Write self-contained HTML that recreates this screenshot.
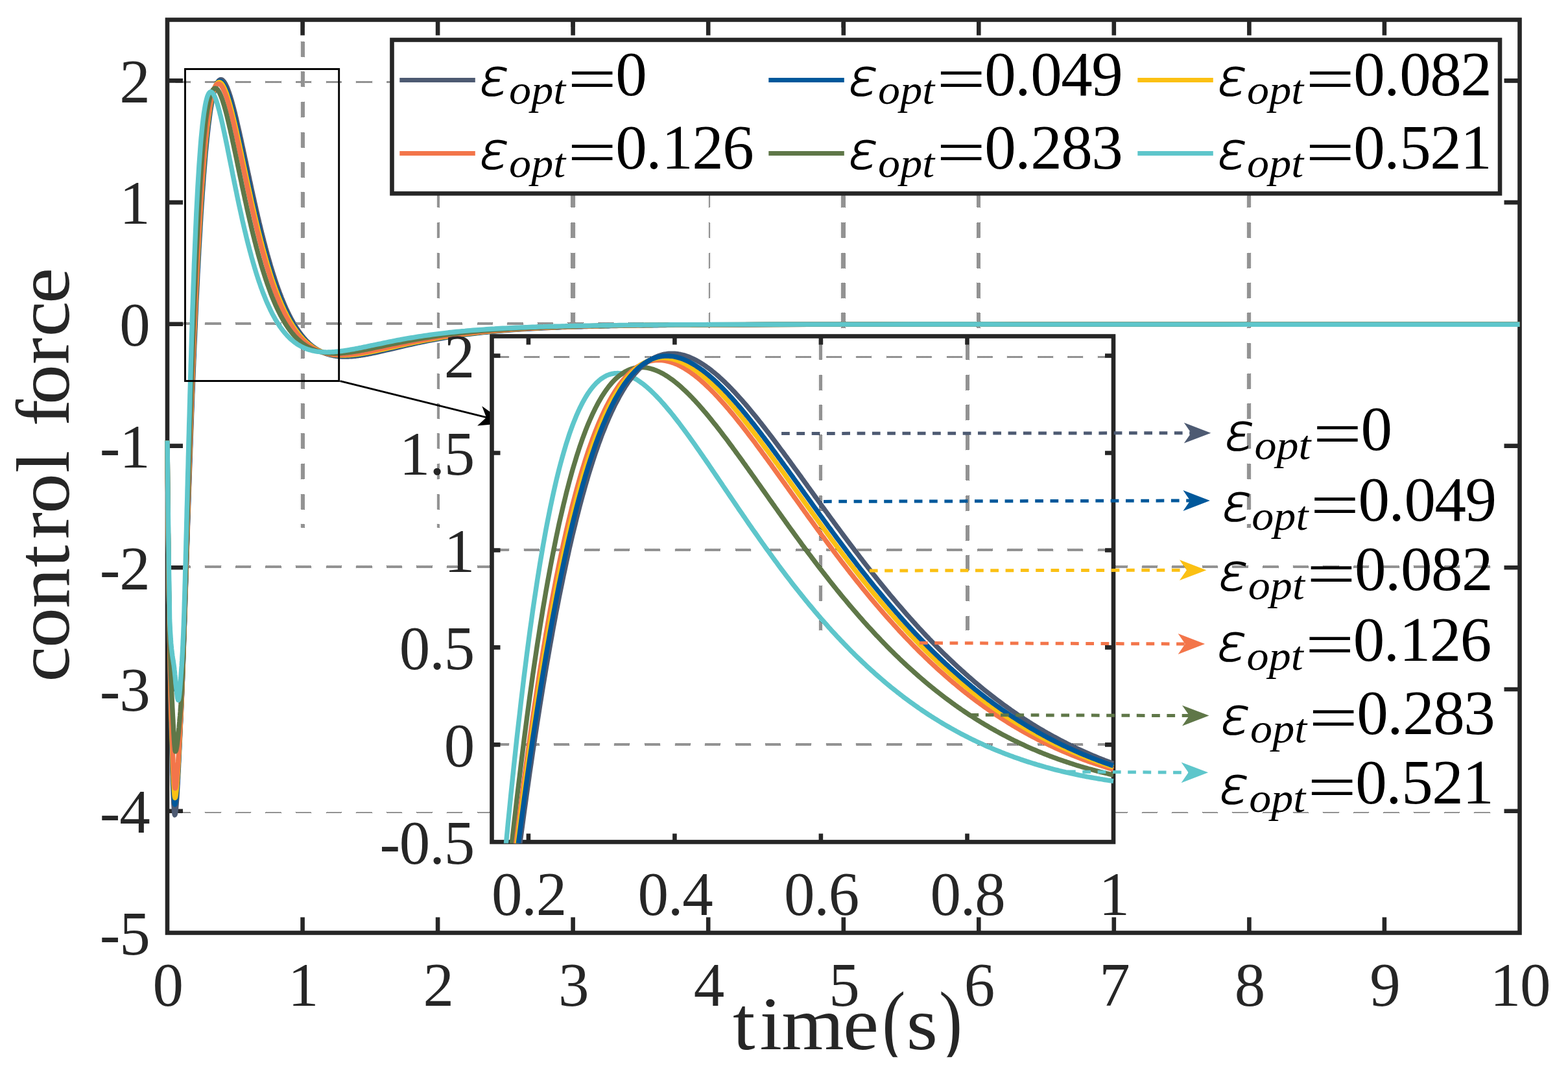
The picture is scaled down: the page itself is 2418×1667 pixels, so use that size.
<!DOCTYPE html>
<html lang="en"><head><meta charset="utf-8"><title>control force</title>
<style>html,body{margin:0;padding:0;background:#fff}svg{display:block}</style></head>
<body>
<svg xmlns="http://www.w3.org/2000/svg" width="2418" height="1667" viewBox="0 0 2418 1667">
<defs>
<pattern id="chk" width="2" height="2" patternUnits="userSpaceOnUse"><rect x="0" y="0" width="1" height="1" fill="#262626"/><rect x="1" y="1" width="1" height="1" fill="#262626"/></pattern>
<clipPath id="cin"><rect x="755.1" y="515.1" width="963.9" height="785.3"/></clipPath>
</defs>
<rect width="2418" height="1667" fill="#fff"/>
<g fill="url(#chk)" shape-rendering="crispEdges">
<rect x="464" y="34" width="6" height="8"/>
<rect x="464" y="64" width="6" height="24"/>
<rect x="464" y="110" width="6" height="24"/>
<rect x="464" y="157" width="6" height="24"/>
<rect x="464" y="204" width="6" height="24"/>
<rect x="464" y="250" width="6" height="24"/>
<rect x="464" y="296" width="6" height="24"/>
<rect x="464" y="343" width="6" height="24"/>
<rect x="464" y="390" width="6" height="24"/>
<rect x="464" y="436" width="6" height="24"/>
<rect x="464" y="482" width="6" height="24"/>
<rect x="464" y="529" width="6" height="24"/>
<rect x="464" y="576" width="6" height="24"/>
<rect x="464" y="622" width="6" height="24"/>
<rect x="464" y="668" width="6" height="24"/>
<rect x="464" y="715" width="6" height="24"/>
<rect x="464" y="762" width="6" height="24"/>
<rect x="464" y="808" width="6" height="6"/>
<rect x="674" y="34" width="4" height="8"/>
<rect x="674" y="64" width="4" height="24"/>
<rect x="674" y="110" width="4" height="24"/>
<rect x="674" y="157" width="4" height="24"/>
<rect x="674" y="204" width="4" height="24"/>
<rect x="674" y="250" width="4" height="24"/>
<rect x="674" y="296" width="4" height="24"/>
<rect x="674" y="343" width="4" height="24"/>
<rect x="674" y="390" width="4" height="24"/>
<rect x="674" y="436" width="4" height="24"/>
<rect x="674" y="482" width="4" height="24"/>
<rect x="674" y="529" width="4" height="24"/>
<rect x="674" y="576" width="4" height="24"/>
<rect x="674" y="622" width="4" height="24"/>
<rect x="674" y="668" width="4" height="24"/>
<rect x="674" y="715" width="4" height="24"/>
<rect x="674" y="762" width="4" height="24"/>
<rect x="674" y="808" width="4" height="6"/>
<rect x="880" y="34" width="7" height="8"/>
<rect x="880" y="64" width="7" height="24"/>
<rect x="880" y="110" width="7" height="24"/>
<rect x="880" y="157" width="7" height="24"/>
<rect x="880" y="204" width="7" height="24"/>
<rect x="880" y="250" width="7" height="24"/>
<rect x="880" y="296" width="7" height="24"/>
<rect x="880" y="343" width="7" height="24"/>
<rect x="880" y="390" width="7" height="24"/>
<rect x="880" y="436" width="7" height="24"/>
<rect x="880" y="482" width="7" height="24"/>
<rect x="880" y="529" width="7" height="24"/>
<rect x="880" y="576" width="7" height="24"/>
<rect x="880" y="622" width="7" height="24"/>
<rect x="880" y="668" width="7" height="24"/>
<rect x="880" y="715" width="7" height="24"/>
<rect x="880" y="762" width="7" height="24"/>
<rect x="880" y="808" width="7" height="6"/>
<rect x="1093" y="34" width="2" height="8"/>
<rect x="1093" y="64" width="2" height="24"/>
<rect x="1093" y="110" width="2" height="24"/>
<rect x="1093" y="157" width="2" height="24"/>
<rect x="1093" y="204" width="2" height="24"/>
<rect x="1093" y="250" width="2" height="24"/>
<rect x="1093" y="296" width="2" height="24"/>
<rect x="1093" y="343" width="2" height="24"/>
<rect x="1093" y="390" width="2" height="24"/>
<rect x="1093" y="436" width="2" height="24"/>
<rect x="1093" y="482" width="2" height="24"/>
<rect x="1093" y="529" width="2" height="24"/>
<rect x="1093" y="576" width="2" height="24"/>
<rect x="1093" y="622" width="2" height="24"/>
<rect x="1093" y="668" width="2" height="24"/>
<rect x="1093" y="715" width="2" height="24"/>
<rect x="1093" y="762" width="2" height="24"/>
<rect x="1093" y="808" width="2" height="6"/>
<rect x="1297" y="34" width="7" height="8"/>
<rect x="1297" y="64" width="7" height="24"/>
<rect x="1297" y="110" width="7" height="24"/>
<rect x="1297" y="157" width="7" height="24"/>
<rect x="1297" y="204" width="7" height="24"/>
<rect x="1297" y="250" width="7" height="24"/>
<rect x="1297" y="296" width="7" height="24"/>
<rect x="1297" y="343" width="7" height="24"/>
<rect x="1297" y="390" width="7" height="24"/>
<rect x="1297" y="436" width="7" height="24"/>
<rect x="1297" y="482" width="7" height="24"/>
<rect x="1297" y="529" width="7" height="24"/>
<rect x="1297" y="576" width="7" height="24"/>
<rect x="1297" y="622" width="7" height="24"/>
<rect x="1297" y="668" width="7" height="24"/>
<rect x="1297" y="715" width="7" height="24"/>
<rect x="1297" y="762" width="7" height="24"/>
<rect x="1297" y="808" width="7" height="6"/>
<rect x="1506" y="34" width="6" height="8"/>
<rect x="1506" y="64" width="6" height="24"/>
<rect x="1506" y="110" width="6" height="24"/>
<rect x="1506" y="157" width="6" height="24"/>
<rect x="1506" y="204" width="6" height="24"/>
<rect x="1506" y="250" width="6" height="24"/>
<rect x="1506" y="296" width="6" height="24"/>
<rect x="1506" y="343" width="6" height="24"/>
<rect x="1506" y="390" width="6" height="24"/>
<rect x="1506" y="436" width="6" height="24"/>
<rect x="1506" y="482" width="6" height="24"/>
<rect x="1506" y="529" width="6" height="24"/>
<rect x="1506" y="576" width="6" height="24"/>
<rect x="1506" y="622" width="6" height="24"/>
<rect x="1506" y="668" width="6" height="24"/>
<rect x="1506" y="715" width="6" height="24"/>
<rect x="1506" y="762" width="6" height="24"/>
<rect x="1506" y="808" width="6" height="6"/>
<rect x="1923" y="34" width="6" height="8"/>
<rect x="1923" y="64" width="6" height="24"/>
<rect x="1923" y="110" width="6" height="24"/>
<rect x="1923" y="157" width="6" height="24"/>
<rect x="1923" y="204" width="6" height="24"/>
<rect x="1923" y="250" width="6" height="24"/>
<rect x="1923" y="296" width="6" height="24"/>
<rect x="1923" y="343" width="6" height="24"/>
<rect x="1923" y="390" width="6" height="24"/>
<rect x="1923" y="436" width="6" height="24"/>
<rect x="1923" y="482" width="6" height="24"/>
<rect x="1923" y="529" width="6" height="24"/>
<rect x="1923" y="576" width="6" height="24"/>
<rect x="1923" y="622" width="6" height="24"/>
<rect x="1923" y="668" width="6" height="24"/>
<rect x="1923" y="715" width="6" height="24"/>
<rect x="1923" y="762" width="6" height="24"/>
<rect x="1923" y="808" width="6" height="6"/>
<rect x="270" y="125" width="24" height="3"/>
<rect x="316" y="125" width="25" height="3"/>
<rect x="363" y="125" width="24" height="3"/>
<rect x="409" y="125" width="25" height="3"/>
<rect x="456" y="125" width="24" height="3"/>
<rect x="503" y="125" width="24" height="3"/>
<rect x="549" y="125" width="25" height="3"/>
<rect x="596" y="125" width="24" height="3"/>
<rect x="642" y="125" width="25" height="3"/>
<rect x="689" y="125" width="24" height="3"/>
<rect x="736" y="125" width="24" height="3"/>
<rect x="782" y="125" width="25" height="3"/>
<rect x="829" y="125" width="24" height="3"/>
<rect x="875" y="125" width="25" height="3"/>
<rect x="922" y="125" width="24" height="3"/>
<rect x="969" y="125" width="24" height="3"/>
<rect x="1015" y="125" width="25" height="3"/>
<rect x="1062" y="125" width="24" height="3"/>
<rect x="1108" y="125" width="25" height="3"/>
<rect x="1155" y="125" width="24" height="3"/>
<rect x="1202" y="125" width="24" height="3"/>
<rect x="1248" y="125" width="25" height="3"/>
<rect x="1295" y="125" width="24" height="3"/>
<rect x="1341" y="125" width="25" height="3"/>
<rect x="1388" y="125" width="24" height="3"/>
<rect x="1434" y="125" width="25" height="3"/>
<rect x="1481" y="125" width="25" height="3"/>
<rect x="1528" y="125" width="24" height="3"/>
<rect x="1574" y="125" width="25" height="3"/>
<rect x="1621" y="125" width="24" height="3"/>
<rect x="1667" y="125" width="25" height="3"/>
<rect x="1714" y="125" width="25" height="3"/>
<rect x="1761" y="125" width="24" height="3"/>
<rect x="1807" y="125" width="25" height="3"/>
<rect x="1854" y="125" width="24" height="3"/>
<rect x="1900" y="125" width="25" height="3"/>
<rect x="1947" y="125" width="25" height="3"/>
<rect x="1994" y="125" width="24" height="3"/>
<rect x="2040" y="125" width="25" height="3"/>
<rect x="2087" y="125" width="24" height="3"/>
<rect x="2133" y="125" width="25" height="3"/>
<rect x="2180" y="125" width="25" height="3"/>
<rect x="2227" y="125" width="24" height="3"/>
<rect x="2273" y="125" width="25" height="3"/>
<rect x="2320" y="125" width="20" height="3"/>
<rect x="270" y="497" width="24" height="4"/>
<rect x="316" y="497" width="25" height="4"/>
<rect x="363" y="497" width="24" height="4"/>
<rect x="409" y="497" width="25" height="4"/>
<rect x="456" y="497" width="24" height="4"/>
<rect x="503" y="497" width="24" height="4"/>
<rect x="549" y="497" width="25" height="4"/>
<rect x="596" y="497" width="24" height="4"/>
<rect x="642" y="497" width="25" height="4"/>
<rect x="689" y="497" width="24" height="4"/>
<rect x="736" y="497" width="24" height="4"/>
<rect x="782" y="497" width="25" height="4"/>
<rect x="829" y="497" width="24" height="4"/>
<rect x="875" y="497" width="25" height="4"/>
<rect x="922" y="497" width="24" height="4"/>
<rect x="969" y="497" width="24" height="4"/>
<rect x="1015" y="497" width="25" height="4"/>
<rect x="1062" y="497" width="24" height="4"/>
<rect x="1108" y="497" width="25" height="4"/>
<rect x="1155" y="497" width="24" height="4"/>
<rect x="1202" y="497" width="24" height="4"/>
<rect x="1248" y="497" width="25" height="4"/>
<rect x="1295" y="497" width="24" height="4"/>
<rect x="1341" y="497" width="25" height="4"/>
<rect x="1388" y="497" width="24" height="4"/>
<rect x="1434" y="497" width="25" height="4"/>
<rect x="1481" y="497" width="25" height="4"/>
<rect x="1528" y="497" width="24" height="4"/>
<rect x="1574" y="497" width="25" height="4"/>
<rect x="1621" y="497" width="24" height="4"/>
<rect x="1667" y="497" width="25" height="4"/>
<rect x="1714" y="497" width="25" height="4"/>
<rect x="1761" y="497" width="24" height="4"/>
<rect x="1807" y="497" width="25" height="4"/>
<rect x="1854" y="497" width="24" height="4"/>
<rect x="1900" y="497" width="25" height="4"/>
<rect x="1947" y="497" width="25" height="4"/>
<rect x="1994" y="497" width="24" height="4"/>
<rect x="2040" y="497" width="25" height="4"/>
<rect x="2087" y="497" width="24" height="4"/>
<rect x="2133" y="497" width="25" height="4"/>
<rect x="2180" y="497" width="25" height="4"/>
<rect x="2227" y="497" width="24" height="4"/>
<rect x="2273" y="497" width="25" height="4"/>
<rect x="2320" y="497" width="20" height="4"/>
<rect x="270" y="872" width="24" height="4"/>
<rect x="316" y="872" width="25" height="4"/>
<rect x="363" y="872" width="24" height="4"/>
<rect x="409" y="872" width="25" height="4"/>
<rect x="456" y="872" width="24" height="4"/>
<rect x="503" y="872" width="24" height="4"/>
<rect x="549" y="872" width="25" height="4"/>
<rect x="596" y="872" width="24" height="4"/>
<rect x="642" y="872" width="25" height="4"/>
<rect x="689" y="872" width="24" height="4"/>
<rect x="736" y="872" width="24" height="4"/>
<rect x="782" y="872" width="25" height="4"/>
<rect x="829" y="872" width="24" height="4"/>
<rect x="875" y="872" width="25" height="4"/>
<rect x="922" y="872" width="24" height="4"/>
<rect x="969" y="872" width="24" height="4"/>
<rect x="1015" y="872" width="25" height="4"/>
<rect x="1062" y="872" width="24" height="4"/>
<rect x="1108" y="872" width="25" height="4"/>
<rect x="1155" y="872" width="24" height="4"/>
<rect x="1202" y="872" width="24" height="4"/>
<rect x="1248" y="872" width="25" height="4"/>
<rect x="1295" y="872" width="24" height="4"/>
<rect x="1341" y="872" width="25" height="4"/>
<rect x="1388" y="872" width="24" height="4"/>
<rect x="1434" y="872" width="25" height="4"/>
<rect x="1481" y="872" width="25" height="4"/>
<rect x="1528" y="872" width="24" height="4"/>
<rect x="1574" y="872" width="25" height="4"/>
<rect x="1621" y="872" width="24" height="4"/>
<rect x="1667" y="872" width="25" height="4"/>
<rect x="1714" y="872" width="25" height="4"/>
<rect x="1761" y="872" width="24" height="4"/>
<rect x="1807" y="872" width="25" height="4"/>
<rect x="1854" y="872" width="24" height="4"/>
<rect x="1900" y="872" width="25" height="4"/>
<rect x="1947" y="872" width="25" height="4"/>
<rect x="1994" y="872" width="24" height="4"/>
<rect x="2040" y="872" width="25" height="4"/>
<rect x="2087" y="872" width="24" height="4"/>
<rect x="2133" y="872" width="25" height="4"/>
<rect x="2180" y="872" width="25" height="4"/>
<rect x="2227" y="872" width="24" height="4"/>
<rect x="2273" y="872" width="25" height="4"/>
<rect x="2320" y="872" width="20" height="4"/>
<rect x="270" y="1252" width="24" height="2"/>
<rect x="316" y="1252" width="25" height="2"/>
<rect x="363" y="1252" width="24" height="2"/>
<rect x="409" y="1252" width="25" height="2"/>
<rect x="456" y="1252" width="24" height="2"/>
<rect x="503" y="1252" width="24" height="2"/>
<rect x="549" y="1252" width="25" height="2"/>
<rect x="596" y="1252" width="24" height="2"/>
<rect x="642" y="1252" width="25" height="2"/>
<rect x="689" y="1252" width="24" height="2"/>
<rect x="736" y="1252" width="24" height="2"/>
<rect x="782" y="1252" width="25" height="2"/>
<rect x="829" y="1252" width="24" height="2"/>
<rect x="875" y="1252" width="25" height="2"/>
<rect x="922" y="1252" width="24" height="2"/>
<rect x="969" y="1252" width="24" height="2"/>
<rect x="1015" y="1252" width="25" height="2"/>
<rect x="1062" y="1252" width="24" height="2"/>
<rect x="1108" y="1252" width="25" height="2"/>
<rect x="1155" y="1252" width="24" height="2"/>
<rect x="1202" y="1252" width="24" height="2"/>
<rect x="1248" y="1252" width="25" height="2"/>
<rect x="1295" y="1252" width="24" height="2"/>
<rect x="1341" y="1252" width="25" height="2"/>
<rect x="1388" y="1252" width="24" height="2"/>
<rect x="1434" y="1252" width="25" height="2"/>
<rect x="1481" y="1252" width="25" height="2"/>
<rect x="1528" y="1252" width="24" height="2"/>
<rect x="1574" y="1252" width="25" height="2"/>
<rect x="1621" y="1252" width="24" height="2"/>
<rect x="1667" y="1252" width="25" height="2"/>
<rect x="1714" y="1252" width="25" height="2"/>
<rect x="1761" y="1252" width="24" height="2"/>
<rect x="1807" y="1252" width="25" height="2"/>
<rect x="1854" y="1252" width="24" height="2"/>
<rect x="1900" y="1252" width="25" height="2"/>
<rect x="1947" y="1252" width="25" height="2"/>
<rect x="1994" y="1252" width="24" height="2"/>
<rect x="2040" y="1252" width="25" height="2"/>
<rect x="2087" y="1252" width="24" height="2"/>
<rect x="2133" y="1252" width="25" height="2"/>
<rect x="2180" y="1252" width="25" height="2"/>
<rect x="2227" y="1252" width="24" height="2"/>
<rect x="2273" y="1252" width="25" height="2"/>
<rect x="2320" y="1252" width="20" height="2"/>
</g>
<g stroke="#262626" stroke-width="6.6" fill="none" stroke-linecap="butt">
<rect x="258" y="30.5" width="2085.5" height="1408"/>
<path d="M466.6 1438.5v-24M466.6 30.5v24M675.1 1438.5v-24M675.1 30.5v24M883.6 1438.5v-24M883.6 30.5v24M1092.2 1438.5v-24M1092.2 30.5v24M1300.8 1438.5v-24M1300.8 30.5v24M1509.3 1438.5v-24M1509.3 30.5v24M1717.8 1438.5v-24M1717.8 30.5v24M1926.4 1438.5v-24M1926.4 30.5v24M2134.9 1438.5v-24M2134.9 30.5v24M258 1250.8h24M2343.5 1250.8h-24M258 1063h24M2343.5 1063h-24M258 875.3h24M2343.5 875.3h-24M258 687.6h24M2343.5 687.6h-24M258 499.8h24M2343.5 499.8h-24M258 312.1h24M2343.5 312.1h-24M258 124.4h24M2343.5 124.4h-24"/>
</g>
<g fill="none" stroke-width="7.4" stroke-linejoin="round" stroke-linecap="butt">
<polyline stroke="#4d5a72" points="258.0,679.5 258.3,710.6 258.5,740.2 258.8,768.2 259.0,794.9 259.3,820.1 259.6,844.1 259.8,866.8 260.1,888.3 260.3,908.7 260.6,927.7 260.9,944.3 261.1,960.2 261.4,977.1 261.6,994.7 261.9,1012.7 262.2,1030.5 262.4,1047.8 262.7,1064.2 263.0,1079.1 263.2,1092.2 263.5,1103.0 263.7,1113.0 264.0,1122.9 264.3,1132.8 264.5,1142.5 264.8,1152.1 265.0,1161.5 265.3,1170.7 265.6,1179.6 265.8,1188.2 266.1,1196.4 266.3,1204.3 266.6,1211.8 266.9,1218.8 267.1,1225.4 267.4,1231.4 267.6,1236.9 267.9,1241.8 268.2,1246.0 268.4,1249.6 268.7,1252.6 268.9,1254.7 269.2,1256.2 269.5,1256.8 269.7,1256.7 270.0,1256.2 270.3,1255.4 270.5,1254.2 270.8,1252.7 271.0,1250.8 271.3,1248.6 271.6,1246.2 271.8,1243.4 272.1,1240.4 272.3,1237.1 272.6,1233.6 272.9,1229.9 273.1,1225.9 273.4,1221.7 273.6,1217.3 273.9,1212.8 274.2,1208.1 274.4,1203.2 274.7,1198.2 274.9,1193.0 275.2,1187.8 275.5,1182.4 275.7,1177.0 276.0,1171.5 276.2,1165.9 276.5,1160.2 276.8,1154.6 277.0,1148.9 277.3,1143.2 277.6,1137.5 277.8,1131.8 278.1,1126.2 278.3,1120.6 278.6,1115.0 278.9,1109.6 279.1,1104.2 279.4,1098.8 279.6,1093.3 279.9,1087.6 280.2,1081.6 280.4,1075.4 280.7,1069.0 280.9,1062.5 281.2,1055.8 281.5,1048.9 281.7,1042.0 282.0,1034.9 282.2,1027.8 282.5,1020.7 282.8,1013.5 283.0,1006.2 283.3,999.0 283.5,991.7 283.8,984.2 284.1,976.4 284.3,968.7 284.6,961.0 284.9,953.2 285.1,945.4 285.4,937.6 285.6,929.8 285.9,921.9 286.2,914.0 286.4,906.1 286.7,898.2 286.9,890.3 287.2,882.4 287.5,874.5 287.7,866.6 288.0,858.7 288.2,850.9 288.5,843.0 288.8,835.2 289.0,827.3 289.3,819.5 289.5,811.7 289.8,803.9 290.1,796.2 290.3,788.5 290.6,780.8 290.8,773.1 291.1,765.5 291.4,757.9 291.6,750.3 291.9,742.7 292.2,735.2 292.4,727.8 292.7,720.3 292.9,713.0 293.2,705.6 293.5,698.3 293.7,691.0 294.0,683.8 294.2,676.6 294.5,669.5 294.8,662.3 295.0,655.3 295.3,648.3 295.5,641.3 295.8,634.4 296.1,627.5 296.3,620.7 296.6,613.9 296.8,607.2 297.1,600.5 297.4,593.8 297.6,587.2 297.9,580.7 298.1,574.2 298.4,567.7 298.7,561.4 298.9,555.0 299.2,548.7 299.4,542.5 299.7,536.3 300.8,512.0 301.8,488.5 302.8,465.9 303.9,444.1 304.9,423.1 306.0,403.0 307.0,383.6 308.1,365.1 309.1,347.4 310.1,330.5 311.2,314.3 312.2,299.0 313.3,284.4 314.3,270.5 315.4,257.4 316.4,245.0 317.4,233.3 318.5,222.4 319.5,212.0 320.6,202.4 321.6,193.4 322.7,185.0 323.7,177.3 324.7,170.1 325.8,163.5 326.8,157.5 327.9,152.1 328.9,147.1 329.9,142.7 331.0,138.7 332.0,135.2 333.1,132.2 334.1,129.7 335.2,127.5 336.2,125.8 337.2,124.4 338.3,123.5 339.3,122.9 340.4,122.6 341.4,122.7 342.5,123.1 343.5,123.8 344.5,124.8 345.6,126.1 346.6,127.6 347.7,129.4 348.7,131.5 349.8,133.7 350.8,136.2 351.8,138.8 352.9,141.7 353.9,144.7 355.0,147.9 356.0,151.3 357.1,154.8 358.1,158.5 359.1,162.3 360.2,166.2 361.2,170.2 362.3,174.3 363.3,178.6 364.4,182.9 365.4,187.3 366.4,191.7 367.5,196.3 368.5,200.9 369.6,205.5 370.6,210.2 371.7,214.9 372.7,219.7 373.7,224.5 374.8,229.3 375.8,234.2 376.9,239.1 377.9,243.9 379.0,248.8 380.0,253.7 381.0,258.6 382.1,263.5 383.1,268.4 384.2,273.2 385.2,278.1 386.3,282.9 387.3,287.7 388.3,292.5 389.4,297.3 390.4,302.0 391.5,306.7 392.5,311.4 393.6,316.0 394.6,320.6 395.6,325.2 396.7,329.7 397.7,334.2 398.8,338.7 399.8,343.1 400.9,347.4 401.9,351.7 402.9,356.0 404.0,360.2 405.0,364.3 406.1,368.4 407.1,372.5 408.2,376.5 409.2,380.5 410.2,384.4 411.3,388.2 412.3,392.0 413.4,395.7 414.4,399.4 415.5,403.1 416.5,406.6 417.5,410.2 418.6,413.6 419.6,417.0 420.7,420.4 421.7,423.7 422.8,426.9 423.8,430.1 424.8,433.3 425.9,436.4 426.9,439.4 428.0,442.4 429.0,445.3 430.1,448.1 431.1,451.0 432.1,453.7 433.2,456.4 434.2,459.1 435.3,461.7 436.3,464.3 437.4,466.8 438.4,469.2 439.4,471.6 440.5,474.0 441.5,476.3 442.6,478.5 443.6,480.8 444.7,482.9 445.7,485.0 446.7,487.1 447.8,489.1 448.8,491.1 449.9,493.0 450.9,494.9 452.0,496.8 453.0,498.6 454.0,500.3 455.1,502.1 456.1,503.7 457.2,505.4 458.2,507.0 459.3,508.5 460.3,510.1 461.3,511.5 462.4,513.0 463.4,514.4 464.5,515.8 465.5,517.1 466.6,518.4 467.6,519.6 468.6,520.9 469.7,522.1 470.7,523.2 471.8,524.4 472.8,525.5 473.8,526.5 474.9,527.5 475.9,528.6 477.0,529.5 478.0,530.5 479.1,531.4 480.1,532.3 481.1,533.1 482.2,534.0 483.2,534.8 484.3,535.5 485.3,536.3 486.4,537.0 487.4,537.7 488.4,538.4 489.5,539.0 490.5,539.7 491.6,540.3 492.6,540.8 493.7,541.4 494.7,541.9 495.7,542.5 496.8,543.0 497.8,543.4 498.9,543.9 499.9,544.3 501.0,544.7 502.0,545.1 503.0,545.5 504.1,545.9 505.1,546.2 506.2,546.5 507.2,546.9 508.3,547.2 509.3,547.4 510.3,547.7 511.4,547.9 512.4,548.2 513.5,548.4 514.5,548.6 515.6,548.8 516.6,548.9 517.6,549.1 518.7,549.3 519.7,549.4 520.8,549.5 521.8,549.6 522.9,549.7 523.9,549.8 524.9,549.9 526.0,549.9 527.0,550.0 528.1,550.0 529.1,550.1 530.2,550.1 531.2,550.1 532.2,550.1 533.3,550.1 534.3,550.1 535.4,550.1 536.4,550.0 537.5,550.0 538.5,549.9 539.5,549.9 540.6,549.8 541.6,549.8 542.7,549.7 543.7,549.6 544.8,549.5 545.8,549.4 546.8,549.3 547.9,549.2 548.9,549.1 550.0,548.9 551.0,548.8 552.1,548.7 553.1,548.5 554.1,548.4 555.2,548.3 556.2,548.1 557.3,547.9 558.3,547.8 559.4,547.6 560.4,547.4 561.4,547.3 562.5,547.1 563.5,546.9 564.6,546.7 565.6,546.5 566.7,546.3 567.7,546.1 568.7,545.9 569.8,545.7 570.8,545.5 575.0,544.7 579.2,543.8 583.3,542.9 587.5,542.0 591.7,541.0 595.9,540.0 600.0,539.1 604.2,538.1 608.4,537.1 612.5,536.1 616.7,535.1 620.9,534.1 625.0,533.2 629.2,532.2 633.4,531.3 637.6,530.3 641.7,529.4 645.9,528.5 650.1,527.7 654.2,526.8 658.4,525.9 662.6,525.1 666.8,524.3 670.9,523.5 675.1,522.8 679.3,522.0 683.4,521.3 687.6,520.6 691.8,519.9 696.0,519.2 700.1,518.6 704.3,517.9 708.5,517.3 712.6,516.7 716.8,516.2 721.0,515.6 725.2,515.1 729.3,514.5 733.5,514.0 737.7,513.6 741.8,513.1 746.0,512.6 750.2,512.2 754.3,511.8 758.5,511.4 762.7,511.0 766.9,510.6 771.0,510.2 775.2,509.9 779.4,509.5 783.5,509.2 787.7,508.9 791.9,508.6 796.1,508.3 800.2,508.0 804.4,507.7 808.6,507.5 812.7,507.2 816.9,507.0 821.1,506.7 825.3,506.5 829.4,506.3 833.6,506.1 837.8,505.9 841.9,505.7 846.1,505.5 850.3,505.3 854.5,505.1 858.6,505.0 862.8,504.8 867.0,504.6 871.1,504.5 875.3,504.3 879.5,504.2 883.6,504.1 887.8,503.9 892.0,503.8 896.2,503.7 900.3,503.6 904.5,503.5 908.7,503.3 912.8,503.2 917.0,503.1 921.2,503.0 925.4,503.0 929.5,502.9 933.7,502.8 937.9,502.7 942.0,502.6 946.2,502.5 950.4,502.5 954.6,502.4 958.7,502.3 962.9,502.2 967.1,502.2 971.2,502.1 975.4,502.1 979.6,502.0 983.8,501.9 987.9,501.9 992.1,501.8 996.3,501.8 1000.4,501.7 1004.6,501.7 1008.8,501.6 1013.0,501.6 1017.1,501.5 1021.3,501.5 1025.5,501.5 1029.6,501.4 1033.8,501.4 1038.0,501.3 1042.1,501.3 1046.3,501.3 1050.5,501.2 1054.7,501.2 1058.8,501.2 1063.0,501.1 1067.2,501.1 1071.3,501.1 1075.5,501.1 1079.7,501.0 1083.9,501.0 1088.0,501.0 1092.2,501.0 1144.3,500.7 1196.5,500.5 1248.6,500.4 1300.8,500.3 1352.9,500.3 1405.0,500.2 1457.2,500.2 1509.3,500.2 1561.4,500.2 1613.6,500.2 1665.7,500.2 1717.8,500.2 1770.0,500.2 1822.1,500.2 1874.3,500.2 1926.4,500.2 1978.5,500.2 2030.7,500.2 2082.8,500.2 2134.9,500.2 2187.1,500.2 2239.2,500.2 2291.4,500.2 2343.5,500.2"/>
<polyline stroke="#00589b" points="258.0,679.5 258.3,710.6 258.5,740.2 258.8,768.2 259.0,794.9 259.3,820.1 259.6,844.1 259.8,866.8 260.1,888.3 260.3,908.7 260.6,927.8 260.9,944.5 261.1,960.2 261.4,976.2 261.6,992.7 261.9,1009.3 262.2,1025.8 262.4,1041.8 262.7,1057.0 263.0,1071.2 263.2,1084.0 263.5,1095.2 263.7,1104.6 264.0,1113.6 264.3,1122.6 264.5,1131.5 264.8,1140.3 265.0,1149.0 265.3,1157.4 265.6,1165.6 265.8,1173.6 266.1,1181.3 266.3,1188.7 266.6,1195.7 266.9,1202.4 267.1,1208.6 267.4,1214.4 267.6,1219.7 267.9,1224.5 268.2,1228.7 268.4,1232.3 268.7,1235.4 268.9,1237.7 269.2,1239.4 269.5,1240.4 269.7,1240.6 270.0,1240.4 270.3,1239.8 270.5,1238.9 270.8,1237.7 271.0,1236.1 271.3,1234.3 271.6,1232.1 271.8,1229.8 272.1,1227.1 272.3,1224.2 272.6,1221.1 272.9,1217.7 273.1,1214.2 273.4,1210.4 273.6,1206.4 273.9,1202.3 274.2,1198.0 274.4,1193.6 274.7,1189.0 274.9,1184.3 275.2,1179.5 275.5,1174.6 275.7,1169.6 276.0,1164.5 276.2,1159.4 276.5,1154.2 276.8,1149.0 277.0,1143.7 277.3,1138.4 277.6,1133.1 277.8,1127.9 278.1,1122.6 278.3,1117.4 278.6,1112.2 278.9,1107.0 279.1,1102.0 279.4,1096.9 279.6,1091.5 279.9,1085.9 280.2,1080.0 280.4,1073.9 280.7,1067.6 280.9,1061.1 281.2,1054.5 281.5,1047.7 281.7,1040.8 282.0,1033.8 282.2,1026.7 282.5,1019.5 282.8,1012.2 283.0,1005.0 283.3,997.7 283.5,990.3 283.8,982.6 284.1,974.6 284.3,966.7 284.6,958.8 284.9,950.8 285.1,942.7 285.4,934.7 285.6,926.6 285.9,918.4 286.2,910.3 286.4,902.2 286.7,894.0 286.9,885.8 287.2,877.7 287.5,869.5 287.7,861.4 288.0,853.2 288.2,845.1 288.5,836.9 288.8,828.8 289.0,820.8 289.3,812.7 289.5,804.6 289.8,796.6 290.1,788.6 290.3,780.7 290.6,772.8 290.8,764.9 291.1,757.0 291.4,749.2 291.6,741.4 291.9,733.7 292.2,726.0 292.4,718.3 292.7,710.7 292.9,703.1 293.2,695.6 293.5,688.1 293.7,680.6 294.0,673.2 294.2,665.9 294.5,658.6 294.8,651.3 295.0,644.1 295.3,637.0 295.5,629.9 295.8,622.8 296.1,615.9 296.3,608.9 296.6,602.0 296.8,595.2 297.1,588.4 297.4,581.7 297.6,575.0 297.9,568.3 298.1,561.8 298.4,555.3 298.7,548.8 298.9,542.4 299.2,536.0 299.4,529.7 299.7,523.5 300.8,499.1 301.8,475.5 302.8,452.9 303.9,431.1 304.9,410.2 306.0,390.2 307.0,371.1 308.1,352.8 309.1,335.3 310.1,318.7 311.2,302.9 312.2,288.0 313.3,273.8 314.3,260.3 315.4,247.7 316.4,235.8 317.4,224.6 318.5,214.1 319.5,204.3 320.6,195.2 321.6,186.7 322.7,178.9 323.7,171.6 324.7,165.0 325.8,159.0 326.8,153.5 327.9,148.6 328.9,144.2 329.9,140.3 331.0,136.8 332.0,133.9 333.1,131.4 334.1,129.4 335.2,127.7 336.2,126.5 337.2,125.6 338.3,125.2 339.3,125.1 340.4,125.3 341.4,125.8 342.5,126.6 343.5,127.8 344.5,129.2 345.6,130.9 346.6,132.8 347.7,135.0 348.7,137.4 349.8,140.0 350.8,142.8 351.8,145.8 352.9,148.9 353.9,152.3 355.0,155.8 356.0,159.4 357.1,163.2 358.1,167.1 359.1,171.1 360.2,175.3 361.2,179.5 362.3,183.8 363.3,188.3 364.4,192.7 365.4,197.3 366.4,201.9 367.5,206.6 368.5,211.3 369.6,216.1 370.6,220.9 371.7,225.7 372.7,230.6 373.7,235.5 374.8,240.4 375.8,245.3 376.9,250.2 377.9,255.1 379.0,260.0 380.0,264.9 381.0,269.8 382.1,274.7 383.1,279.6 384.2,284.4 385.2,289.3 386.3,294.1 387.3,298.9 388.3,303.6 389.4,308.3 390.4,313.0 391.5,317.7 392.5,322.3 393.6,326.8 394.6,331.4 395.6,335.9 396.7,340.3 397.7,344.7 398.8,349.0 399.8,353.3 400.9,357.6 401.9,361.8 402.9,365.9 404.0,370.0 405.0,374.1 406.1,378.1 407.1,382.0 408.2,385.9 409.2,389.7 410.2,393.5 411.3,397.2 412.3,400.9 413.4,404.5 414.4,408.0 415.5,411.5 416.5,415.0 417.5,418.4 418.6,421.7 419.6,425.0 420.7,428.2 421.7,431.3 422.8,434.4 423.8,437.5 424.8,440.5 425.9,443.4 426.9,446.3 428.0,449.1 429.0,451.9 430.1,454.7 431.1,457.3 432.1,459.9 433.2,462.5 434.2,465.0 435.3,467.5 436.3,469.9 437.4,472.3 438.4,474.6 439.4,476.9 440.5,479.1 441.5,481.3 442.6,483.4 443.6,485.5 444.7,487.5 445.7,489.5 446.7,491.4 447.8,493.3 448.8,495.2 449.9,497.0 450.9,498.8 452.0,500.5 453.0,502.2 454.0,503.8 455.1,505.4 456.1,507.0 457.2,508.5 458.2,510.0 459.3,511.4 460.3,512.8 461.3,514.2 462.4,515.6 463.4,516.9 464.5,518.1 465.5,519.4 466.6,520.6 467.6,521.7 468.6,522.8 469.7,523.9 470.7,525.0 471.8,526.0 472.8,527.1 473.8,528.0 474.9,529.0 475.9,529.9 477.0,530.8 478.0,531.6 479.1,532.5 480.1,533.3 481.1,534.1 482.2,534.8 483.2,535.5 484.3,536.2 485.3,536.9 486.4,537.6 487.4,538.2 488.4,538.8 489.5,539.4 490.5,540.0 491.6,540.5 492.6,541.0 493.7,541.5 494.7,542.0 495.7,542.5 496.8,542.9 497.8,543.3 498.9,543.7 499.9,544.1 501.0,544.5 502.0,544.8 503.0,545.2 504.1,545.5 505.1,545.8 506.2,546.1 507.2,546.3 508.3,546.6 509.3,546.8 510.3,547.0 511.4,547.2 512.4,547.4 513.5,547.6 514.5,547.8 515.6,547.9 516.6,548.1 517.6,548.2 518.7,548.3 519.7,548.4 520.8,548.5 521.8,548.6 522.9,548.7 523.9,548.7 524.9,548.8 526.0,548.8 527.0,548.8 528.1,548.9 529.1,548.9 530.2,548.9 531.2,548.9 532.2,548.9 533.3,548.8 534.3,548.8 535.4,548.8 536.4,548.7 537.5,548.7 538.5,548.6 539.5,548.5 540.6,548.4 541.6,548.4 542.7,548.3 543.7,548.2 544.8,548.1 545.8,548.0 546.8,547.9 547.9,547.7 548.9,547.6 550.0,547.5 551.0,547.3 552.1,547.2 553.1,547.1 554.1,546.9 555.2,546.8 556.2,546.6 557.3,546.4 558.3,546.3 559.4,546.1 560.4,545.9 561.4,545.7 562.5,545.6 563.5,545.4 564.6,545.2 565.6,545.0 566.7,544.8 567.7,544.6 568.7,544.4 569.8,544.2 570.8,544.0 575.0,543.2 579.2,542.3 583.3,541.4 587.5,540.5 591.7,539.6 595.9,538.6 600.0,537.7 604.2,536.7 608.4,535.7 612.5,534.8 616.7,533.8 620.9,532.9 625.0,532.0 629.2,531.0 633.4,530.1 637.6,529.2 641.7,528.3 645.9,527.5 650.1,526.6 654.2,525.8 658.4,525.0 662.6,524.2 666.8,523.4 670.9,522.6 675.1,521.9 679.3,521.2 683.4,520.5 687.6,519.8 691.8,519.1 696.0,518.5 700.1,517.9 704.3,517.3 708.5,516.7 712.6,516.1 716.8,515.5 721.0,515.0 725.2,514.5 729.3,514.0 733.5,513.5 737.7,513.0 741.8,512.6 746.0,512.1 750.2,511.7 754.3,511.3 758.5,510.9 762.7,510.5 766.9,510.2 771.0,509.8 775.2,509.5 779.4,509.1 783.5,508.8 787.7,508.5 791.9,508.2 796.1,507.9 800.2,507.6 804.4,507.4 808.6,507.1 812.7,506.9 816.9,506.6 821.1,506.4 825.3,506.2 829.4,506.0 833.6,505.8 837.8,505.6 841.9,505.4 846.1,505.2 850.3,505.0 854.5,504.8 858.6,504.7 862.8,504.5 867.0,504.4 871.1,504.2 875.3,504.1 879.5,504.0 883.6,503.8 887.8,503.7 892.0,503.6 896.2,503.5 900.3,503.3 904.5,503.2 908.7,503.1 912.8,503.0 917.0,502.9 921.2,502.8 925.4,502.8 929.5,502.7 933.7,502.6 937.9,502.5 942.0,502.4 946.2,502.3 950.4,502.3 954.6,502.2 958.7,502.1 962.9,502.1 967.1,502.0 971.2,502.0 975.4,501.9 979.6,501.8 983.8,501.8 987.9,501.7 992.1,501.7 996.3,501.6 1000.4,501.6 1004.6,501.5 1008.8,501.5 1013.0,501.5 1017.1,501.4 1021.3,501.4 1025.5,501.3 1029.6,501.3 1033.8,501.3 1038.0,501.2 1042.1,501.2 1046.3,501.2 1050.5,501.1 1054.7,501.1 1058.8,501.1 1063.0,501.1 1067.2,501.0 1071.3,501.0 1075.5,501.0 1079.7,501.0 1083.9,500.9 1088.0,500.9 1092.2,500.9 1144.3,500.7 1196.5,500.5 1248.6,500.4 1300.8,500.4 1352.9,500.3 1405.0,500.3 1457.2,500.3 1509.3,500.2 1561.4,500.2 1613.6,500.2 1665.7,500.2 1717.8,500.2 1770.0,500.2 1822.1,500.2 1874.3,500.2 1926.4,500.2 1978.5,500.2 2030.7,500.2 2082.8,500.2 2134.9,500.2 2187.1,500.2 2239.2,500.2 2291.4,500.2 2343.5,500.2"/>
<polyline stroke="#fbc013" points="258.0,679.5 258.3,710.6 258.5,740.2 258.8,768.2 259.0,794.9 259.3,820.1 259.6,844.1 259.8,866.8 260.1,888.3 260.3,908.7 260.6,927.8 260.9,944.7 261.1,960.2 261.4,975.5 261.6,991.1 261.9,1006.6 262.2,1021.8 262.4,1036.6 262.7,1050.8 263.0,1064.2 263.2,1076.6 263.5,1087.7 263.7,1097.5 264.0,1106.0 264.3,1114.3 264.5,1122.6 264.8,1130.8 265.0,1138.9 265.3,1146.9 265.6,1154.7 265.8,1162.3 266.1,1169.6 266.3,1176.7 266.6,1183.5 266.9,1190.0 267.1,1196.1 267.4,1201.8 267.6,1207.1 267.9,1211.9 268.2,1216.2 268.4,1220.1 268.7,1223.4 268.9,1226.1 269.2,1228.2 269.5,1229.6 269.7,1230.4 270.0,1230.5 270.3,1230.2 270.5,1229.5 270.8,1228.6 271.0,1227.3 271.3,1225.8 271.6,1223.9 271.8,1221.8 272.1,1219.4 272.3,1216.8 272.6,1213.9 272.9,1210.8 273.1,1207.5 273.4,1204.0 273.6,1200.4 273.9,1196.5 274.2,1192.5 274.4,1188.3 274.7,1183.9 274.9,1179.5 275.2,1174.9 275.5,1170.2 275.7,1165.4 276.0,1160.6 276.2,1155.6 276.5,1150.6 276.8,1145.6 277.0,1140.5 277.3,1135.4 277.6,1130.3 277.8,1125.2 278.1,1120.1 278.3,1115.0 278.6,1109.9 278.9,1104.9 279.1,1100.0 279.4,1094.8 279.6,1089.4 279.9,1083.6 280.2,1077.6 280.4,1071.3 280.7,1064.8 280.9,1058.1 281.2,1051.2 281.5,1044.2 281.7,1037.1 282.0,1029.8 282.2,1022.5 282.5,1015.1 282.8,1007.6 283.0,1000.1 283.3,992.7 283.5,985.2 283.8,977.3 284.1,969.2 284.3,961.2 284.6,953.1 284.9,945.0 285.1,936.8 285.4,928.7 285.6,920.4 285.9,912.2 286.2,904.0 286.4,895.7 286.7,887.4 286.9,879.2 287.2,870.9 287.5,862.6 287.7,854.4 288.0,846.1 288.2,837.9 288.5,829.7 288.8,821.5 289.0,813.3 289.3,805.1 289.5,797.0 289.8,788.9 290.1,780.8 290.3,772.7 290.6,764.7 290.8,756.8 291.1,748.8 291.4,740.9 291.6,733.0 291.9,725.2 292.2,717.4 292.4,709.7 292.7,702.0 292.9,694.3 293.2,686.7 293.5,679.2 293.7,671.7 294.0,664.2 294.2,656.8 294.5,649.4 294.8,642.1 295.0,634.9 295.3,627.6 295.5,620.5 295.8,613.4 296.1,606.3 296.3,599.3 296.6,592.4 296.8,585.5 297.1,578.7 297.4,571.9 297.6,565.2 297.9,558.5 298.1,551.9 298.4,545.4 298.7,538.9 298.9,532.4 299.2,526.1 299.4,519.7 299.7,513.5 300.8,489.0 301.8,465.4 302.8,442.8 303.9,421.1 304.9,400.2 306.0,380.3 307.0,361.3 308.1,343.2 309.1,326.0 310.1,309.6 311.2,294.1 312.2,279.4 313.3,265.5 314.3,252.4 315.4,240.1 316.4,228.5 317.4,217.7 318.5,207.6 319.5,198.2 320.6,189.5 321.6,181.5 322.7,174.1 323.7,167.3 324.7,161.1 325.8,155.5 326.8,150.5 327.9,146.0 328.9,142.1 329.9,138.6 331.0,135.6 332.0,133.1 333.1,131.0 334.1,129.4 335.2,128.2 336.2,127.4 337.2,126.9 338.3,126.8 339.3,127.1 340.4,127.7 341.4,128.6 342.5,129.8 343.5,131.2 344.5,133.0 345.6,135.0 346.6,137.2 347.7,139.7 348.7,142.4 349.8,145.2 350.8,148.3 351.8,151.5 352.9,155.0 353.9,158.5 355.0,162.2 356.0,166.1 357.1,170.1 358.1,174.1 359.1,178.3 360.2,182.6 361.2,187.0 362.3,191.5 363.3,196.0 364.4,200.6 365.4,205.3 366.4,210.0 367.5,214.7 368.5,219.5 369.6,224.4 370.6,229.2 371.7,234.1 372.7,239.0 373.7,243.9 374.8,248.9 375.8,253.8 376.9,258.7 377.9,263.6 379.0,268.5 380.0,273.4 381.0,278.3 382.1,283.2 383.1,288.1 384.2,292.9 385.2,297.7 386.3,302.4 387.3,307.2 388.3,311.9 389.4,316.5 390.4,321.1 391.5,325.7 392.5,330.3 393.6,334.8 394.6,339.2 395.6,343.6 396.7,348.0 397.7,352.3 398.8,356.6 399.8,360.8 400.9,364.9 401.9,369.0 402.9,373.1 404.0,377.1 405.0,381.0 406.1,384.9 407.1,388.8 408.2,392.5 409.2,396.3 410.2,399.9 411.3,403.5 412.3,407.1 413.4,410.6 414.4,414.0 415.5,417.4 416.5,420.8 417.5,424.0 418.6,427.3 419.6,430.4 420.7,433.5 421.7,436.6 422.8,439.6 423.8,442.5 424.8,445.4 425.9,448.2 426.9,451.0 428.0,453.7 429.0,456.4 430.1,459.0 431.1,461.6 432.1,464.1 433.2,466.6 434.2,469.0 435.3,471.4 436.3,473.7 437.4,476.0 438.4,478.2 439.4,480.3 440.5,482.5 441.5,484.5 442.6,486.6 443.6,488.6 444.7,490.5 445.7,492.4 446.7,494.2 447.8,496.1 448.8,497.8 449.9,499.5 450.9,501.2 452.0,502.9 453.0,504.5 454.0,506.0 455.1,507.5 456.1,509.0 457.2,510.5 458.2,511.9 459.3,513.3 460.3,514.6 461.3,515.9 462.4,517.2 463.4,518.4 464.5,519.6 465.5,520.7 466.6,521.9 467.6,523.0 468.6,524.0 469.7,525.1 470.7,526.1 471.8,527.0 472.8,528.0 473.8,528.9 474.9,529.8 475.9,530.7 477.0,531.5 478.0,532.3 479.1,533.1 480.1,533.8 481.1,534.6 482.2,535.3 483.2,535.9 484.3,536.6 485.3,537.2 486.4,537.8 487.4,538.4 488.4,539.0 489.5,539.5 490.5,540.1 491.6,540.6 492.6,541.0 493.7,541.5 494.7,541.9 495.7,542.4 496.8,542.8 497.8,543.2 498.9,543.5 499.9,543.9 501.0,544.2 502.0,544.5 503.0,544.8 504.1,545.1 505.1,545.4 506.2,545.6 507.2,545.9 508.3,546.1 509.3,546.3 510.3,546.5 511.4,546.7 512.4,546.9 513.5,547.0 514.5,547.2 515.6,547.3 516.6,547.4 517.6,547.5 518.7,547.6 519.7,547.7 520.8,547.8 521.8,547.9 522.9,547.9 523.9,548.0 524.9,548.0 526.0,548.0 527.0,548.0 528.1,548.0 529.1,548.0 530.2,548.0 531.2,548.0 532.2,548.0 533.3,548.0 534.3,547.9 535.4,547.9 536.4,547.8 537.5,547.7 538.5,547.7 539.5,547.6 540.6,547.5 541.6,547.4 542.7,547.3 543.7,547.2 544.8,547.1 545.8,547.0 546.8,546.9 547.9,546.8 548.9,546.6 550.0,546.5 551.0,546.4 552.1,546.2 553.1,546.1 554.1,545.9 555.2,545.8 556.2,545.6 557.3,545.4 558.3,545.3 559.4,545.1 560.4,544.9 561.4,544.7 562.5,544.6 563.5,544.4 564.6,544.2 565.6,544.0 566.7,543.8 567.7,543.6 568.7,543.4 569.8,543.2 570.8,543.0 575.0,542.2 579.2,541.3 583.3,540.4 587.5,539.5 591.7,538.6 595.9,537.7 600.0,536.7 604.2,535.8 608.4,534.9 612.5,533.9 616.7,533.0 620.9,532.1 625.0,531.2 629.2,530.2 633.4,529.4 637.6,528.5 641.7,527.6 645.9,526.8 650.1,525.9 654.2,525.1 658.4,524.3 662.6,523.6 666.8,522.8 670.9,522.1 675.1,521.3 679.3,520.6 683.4,519.9 687.6,519.3 691.8,518.6 696.0,518.0 700.1,517.4 704.3,516.8 708.5,516.2 712.6,515.7 716.8,515.1 721.0,514.6 725.2,514.1 729.3,513.6 733.5,513.1 737.7,512.7 741.8,512.2 746.0,511.8 750.2,511.4 754.3,511.0 758.5,510.6 762.7,510.2 766.9,509.9 771.0,509.5 775.2,509.2 779.4,508.9 783.5,508.5 787.7,508.2 791.9,507.9 796.1,507.7 800.2,507.4 804.4,507.1 808.6,506.9 812.7,506.6 816.9,506.4 821.1,506.2 825.3,506.0 829.4,505.8 833.6,505.6 837.8,505.4 841.9,505.2 846.1,505.0 850.3,504.8 854.5,504.7 858.6,504.5 862.8,504.4 867.0,504.2 871.1,504.1 875.3,503.9 879.5,503.8 883.6,503.7 887.8,503.5 892.0,503.4 896.2,503.3 900.3,503.2 904.5,503.1 908.7,503.0 912.8,502.9 917.0,502.8 921.2,502.7 925.4,502.6 929.5,502.5 933.7,502.5 937.9,502.4 942.0,502.3 946.2,502.2 950.4,502.2 954.6,502.1 958.7,502.0 962.9,502.0 967.1,501.9 971.2,501.9 975.4,501.8 979.6,501.7 983.8,501.7 987.9,501.6 992.1,501.6 996.3,501.5 1000.4,501.5 1004.6,501.5 1008.8,501.4 1013.0,501.4 1017.1,501.3 1021.3,501.3 1025.5,501.3 1029.6,501.2 1033.8,501.2 1038.0,501.2 1042.1,501.1 1046.3,501.1 1050.5,501.1 1054.7,501.1 1058.8,501.0 1063.0,501.0 1067.2,501.0 1071.3,501.0 1075.5,500.9 1079.7,500.9 1083.9,500.9 1088.0,500.9 1092.2,500.8 1144.3,500.6 1196.5,500.5 1248.6,500.4 1300.8,500.4 1352.9,500.3 1405.0,500.3 1457.2,500.3 1509.3,500.3 1561.4,500.3 1613.6,500.3 1665.7,500.2 1717.8,500.2 1770.0,500.2 1822.1,500.2 1874.3,500.2 1926.4,500.2 1978.5,500.2 2030.7,500.2 2082.8,500.2 2134.9,500.2 2187.1,500.2 2239.2,500.2 2291.4,500.2 2343.5,500.2"/>
<polyline stroke="#f3754a" points="258.0,679.5 258.3,710.6 258.5,740.2 258.8,768.2 259.0,794.9 259.3,820.1 259.6,844.1 259.8,866.8 260.1,888.3 260.3,908.7 260.6,927.9 260.9,945.0 261.1,960.2 261.4,974.4 261.6,988.4 261.9,1002.1 262.2,1015.5 262.4,1028.4 262.7,1040.9 263.0,1052.7 263.2,1064.0 263.5,1074.5 263.7,1084.2 264.0,1093.1 264.3,1101.0 264.5,1108.4 264.8,1115.9 265.0,1123.3 265.3,1130.7 265.6,1138.0 265.8,1145.2 266.1,1152.2 266.3,1159.0 266.6,1165.7 266.9,1172.0 267.1,1178.1 267.4,1183.8 267.6,1189.2 267.9,1194.2 268.2,1198.7 268.4,1202.8 268.7,1206.4 268.9,1209.5 269.2,1212.0 269.5,1213.9 269.7,1215.2 270.0,1215.8 270.3,1215.8 270.5,1215.5 270.8,1214.8 271.0,1213.8 271.3,1212.5 271.6,1210.9 271.8,1209.1 272.1,1207.0 272.3,1204.7 272.6,1202.1 272.9,1199.3 273.1,1196.3 273.4,1193.1 273.6,1189.7 273.9,1186.2 274.2,1182.4 274.4,1178.6 274.7,1174.5 274.9,1170.4 275.2,1166.1 275.5,1161.8 275.7,1157.3 276.0,1152.8 276.2,1148.2 276.5,1143.5 276.8,1138.8 277.0,1134.1 277.3,1129.3 277.6,1124.5 277.8,1119.8 278.1,1115.0 278.3,1110.3 278.6,1105.6 278.9,1101.0 279.1,1096.2 279.4,1091.2 279.6,1085.8 279.9,1080.2 280.2,1074.4 280.4,1068.4 280.7,1062.1 280.9,1055.7 281.2,1049.1 281.5,1042.3 281.7,1035.4 282.0,1028.5 282.2,1021.4 282.5,1014.2 282.8,1007.0 283.0,999.8 283.3,992.5 283.5,985.2 283.8,977.3 284.1,969.2 284.3,961.1 284.6,953.0 284.9,944.9 285.1,936.7 285.4,928.4 285.6,920.1 285.9,911.8 286.2,903.5 286.4,895.1 286.7,886.7 286.9,878.3 287.2,869.8 287.5,861.4 287.7,853.0 288.0,844.6 288.2,836.1 288.5,827.7 288.8,819.3 289.0,811.0 289.3,802.6 289.5,794.3 289.8,785.9 290.1,777.7 290.3,769.4 290.6,761.2 290.8,753.0 291.1,744.8 291.4,736.7 291.6,728.6 291.9,720.6 292.2,712.6 292.4,704.6 292.7,696.7 292.9,688.8 293.2,681.0 293.5,673.2 293.7,665.5 294.0,657.9 294.2,650.2 294.5,642.7 294.8,635.2 295.0,627.7 295.3,620.3 295.5,613.0 295.8,605.7 296.1,598.5 296.3,591.3 296.6,584.2 296.8,577.2 297.1,570.2 297.4,563.2 297.6,556.4 297.9,549.6 298.1,542.8 298.4,536.1 298.7,529.5 298.9,523.0 299.2,516.5 299.4,510.0 299.7,503.7 300.8,478.8 301.8,454.9 302.8,432.1 303.9,410.2 304.9,389.3 306.0,369.5 307.0,350.5 308.1,332.6 309.1,315.5 310.1,299.4 311.2,284.2 312.2,269.8 313.3,256.3 314.3,243.6 315.4,231.7 316.4,220.6 317.4,210.3 318.5,200.7 319.5,191.9 320.6,183.7 321.6,176.2 322.7,169.3 323.7,163.1 324.7,157.4 325.8,152.4 326.8,147.9 327.9,143.9 328.9,140.5 329.9,137.5 331.0,135.1 332.0,133.0 333.1,131.5 334.1,130.3 335.2,129.5 336.2,129.2 337.2,129.1 338.3,129.5 339.3,130.1 340.4,131.1 341.4,132.3 342.5,133.9 343.5,135.7 344.5,137.8 345.6,140.1 346.6,142.6 347.7,145.4 348.7,148.3 349.8,151.4 350.8,154.7 351.8,158.2 352.9,161.8 353.9,165.6 355.0,169.5 356.0,173.5 357.1,177.6 358.1,181.9 359.1,186.2 360.2,190.6 361.2,195.1 362.3,199.7 363.3,204.3 364.4,209.0 365.4,213.8 366.4,218.6 367.5,223.4 368.5,228.2 369.6,233.1 370.6,238.0 371.7,243.0 372.7,247.9 373.7,252.8 374.8,257.8 375.8,262.7 376.9,267.6 377.9,272.5 379.0,277.4 380.0,282.3 381.0,287.2 382.1,292.1 383.1,296.9 384.2,301.7 385.2,306.4 386.3,311.1 387.3,315.8 388.3,320.5 389.4,325.1 390.4,329.7 391.5,334.2 392.5,338.7 393.6,343.1 394.6,347.5 395.6,351.9 396.7,356.1 397.7,360.4 398.8,364.6 399.8,368.7 400.9,372.8 401.9,376.8 402.9,380.8 404.0,384.7 405.0,388.6 406.1,392.4 407.1,396.1 408.2,399.8 409.2,403.5 410.2,407.1 411.3,410.6 412.3,414.0 413.4,417.5 414.4,420.8 415.5,424.1 416.5,427.3 417.5,430.5 418.6,433.7 419.6,436.7 420.7,439.7 421.7,442.7 422.8,445.6 423.8,448.4 424.8,451.2 425.9,454.0 426.9,456.7 428.0,459.3 429.0,461.9 430.1,464.4 431.1,466.9 432.1,469.3 433.2,471.7 434.2,474.0 435.3,476.3 436.3,478.5 437.4,480.7 438.4,482.8 439.4,484.9 440.5,486.9 441.5,488.9 442.6,490.8 443.6,492.7 444.7,494.6 445.7,496.4 446.7,498.1 447.8,499.8 448.8,501.5 449.9,503.1 450.9,504.7 452.0,506.3 453.0,507.8 454.0,509.3 455.1,510.7 456.1,512.1 457.2,513.5 458.2,514.8 459.3,516.1 460.3,517.3 461.3,518.6 462.4,519.7 463.4,520.9 464.5,522.0 465.5,523.1 466.6,524.1 467.6,525.2 468.6,526.2 469.7,527.1 470.7,528.1 471.8,529.0 472.8,529.8 473.8,530.7 474.9,531.5 475.9,532.3 477.0,533.0 478.0,533.8 479.1,534.5 480.1,535.2 481.1,535.8 482.2,536.5 483.2,537.1 484.3,537.7 485.3,538.3 486.4,538.8 487.4,539.3 488.4,539.8 489.5,540.3 490.5,540.8 491.6,541.2 492.6,541.7 493.7,542.1 494.7,542.4 495.7,542.8 496.8,543.2 497.8,543.5 498.9,543.8 499.9,544.1 501.0,544.4 502.0,544.7 503.0,544.9 504.1,545.2 505.1,545.4 506.2,545.6 507.2,545.8 508.3,546.0 509.3,546.1 510.3,546.3 511.4,546.4 512.4,546.6 513.5,546.7 514.5,546.8 515.6,546.9 516.6,547.0 517.6,547.0 518.7,547.1 519.7,547.2 520.8,547.2 521.8,547.2 522.9,547.2 523.9,547.3 524.9,547.3 526.0,547.3 527.0,547.2 528.1,547.2 529.1,547.2 530.2,547.1 531.2,547.1 532.2,547.0 533.3,547.0 534.3,546.9 535.4,546.8 536.4,546.8 537.5,546.7 538.5,546.6 539.5,546.5 540.6,546.4 541.6,546.3 542.7,546.1 543.7,546.0 544.8,545.9 545.8,545.8 546.8,545.6 547.9,545.5 548.9,545.3 550.0,545.2 551.0,545.0 552.1,544.9 553.1,544.7 554.1,544.5 555.2,544.4 556.2,544.2 557.3,544.0 558.3,543.8 559.4,543.7 560.4,543.5 561.4,543.3 562.5,543.1 563.5,542.9 564.6,542.7 565.6,542.5 566.7,542.3 567.7,542.1 568.7,541.9 569.8,541.7 570.8,541.5 575.0,540.6 579.2,539.7 583.3,538.8 587.5,537.9 591.7,537.0 595.9,536.1 600.0,535.1 604.2,534.2 608.4,533.3 612.5,532.4 616.7,531.4 620.9,530.5 625.0,529.7 629.2,528.8 633.4,527.9 637.6,527.1 641.7,526.2 645.9,525.4 650.1,524.6 654.2,523.8 658.4,523.1 662.6,522.3 666.8,521.6 670.9,520.9 675.1,520.2 679.3,519.6 683.4,518.9 687.6,518.3 691.8,517.7 696.0,517.1 700.1,516.5 704.3,515.9 708.5,515.4 712.6,514.9 716.8,514.4 721.0,513.9 725.2,513.4 729.3,512.9 733.5,512.5 737.7,512.1 741.8,511.7 746.0,511.3 750.2,510.9 754.3,510.5 758.5,510.1 762.7,509.8 766.9,509.4 771.0,509.1 775.2,508.8 779.4,508.5 783.5,508.2 787.7,507.9 791.9,507.7 796.1,507.4 800.2,507.1 804.4,506.9 808.6,506.7 812.7,506.4 816.9,506.2 821.1,506.0 825.3,505.8 829.4,505.6 833.6,505.4 837.8,505.2 841.9,505.1 846.1,504.9 850.3,504.7 854.5,504.6 858.6,504.4 862.8,504.3 867.0,504.1 871.1,504.0 875.3,503.9 879.5,503.7 883.6,503.6 887.8,503.5 892.0,503.4 896.2,503.3 900.3,503.2 904.5,503.1 908.7,503.0 912.8,502.9 917.0,502.8 921.2,502.7 925.4,502.6 929.5,502.5 933.7,502.4 937.9,502.4 942.0,502.3 946.2,502.2 950.4,502.1 954.6,502.1 958.7,502.0 962.9,502.0 967.1,501.9 971.2,501.8 975.4,501.8 979.6,501.7 983.8,501.7 987.9,501.6 992.1,501.6 996.3,501.5 1000.4,501.5 1004.6,501.4 1008.8,501.4 1013.0,501.3 1017.1,501.3 1021.3,501.3 1025.5,501.2 1029.6,501.2 1033.8,501.2 1038.0,501.1 1042.1,501.1 1046.3,501.1 1050.5,501.0 1054.7,501.0 1058.8,501.0 1063.0,500.9 1067.2,500.9 1071.3,500.9 1075.5,500.9 1079.7,500.8 1083.9,500.8 1088.0,500.8 1092.2,500.8 1144.3,500.6 1196.5,500.4 1248.6,500.3 1300.8,500.2 1352.9,500.2 1405.0,500.2 1457.2,500.2 1509.3,500.2 1561.4,500.2 1613.6,500.2 1665.7,500.2 1717.8,500.2 1770.0,500.2 1822.1,500.2 1874.3,500.2 1926.4,500.2 1978.5,500.2 2030.7,500.2 2082.8,500.2 2134.9,500.2 2187.1,500.2 2239.2,500.2 2291.4,500.2 2343.5,500.2"/>
<polyline stroke="#5f7748" points="258.0,679.5 258.3,707.4 258.5,734.2 258.8,759.9 259.0,784.5 259.3,808.1 259.6,830.8 259.8,852.5 260.1,873.4 260.3,893.5 260.6,912.9 260.9,931.6 261.1,949.2 261.4,962.4 261.6,973.3 261.9,983.7 262.2,993.6 262.4,1002.9 262.7,1011.9 263.0,1020.3 263.2,1028.4 263.5,1036.0 263.7,1043.3 264.0,1050.2 264.3,1056.8 264.5,1063.1 264.8,1069.2 265.0,1075.0 265.3,1080.5 265.6,1085.9 265.8,1091.1 266.1,1096.1 266.3,1101.0 266.6,1105.9 266.9,1110.9 267.1,1116.0 267.4,1121.0 267.6,1126.0 267.9,1130.9 268.2,1135.5 268.4,1139.9 268.7,1144.0 268.9,1147.7 269.2,1151.0 269.5,1153.8 269.7,1156.0 270.0,1157.6 270.3,1158.6 270.5,1158.8 270.8,1158.6 271.0,1158.3 271.3,1157.7 271.6,1156.9 271.8,1156.0 272.1,1154.8 272.3,1153.5 272.6,1152.0 272.9,1150.4 273.1,1148.7 273.4,1146.7 273.6,1144.7 273.9,1142.5 274.2,1140.3 274.4,1137.9 274.7,1135.4 274.9,1132.8 275.2,1130.2 275.5,1127.5 275.7,1124.7 276.0,1121.8 276.2,1118.9 276.5,1116.0 276.8,1113.0 277.0,1110.0 277.3,1107.0 277.6,1104.0 277.8,1101.0 278.1,1097.8 278.3,1094.4 278.6,1090.7 278.9,1086.7 279.1,1082.5 279.4,1078.1 279.6,1073.4 279.9,1068.6 280.2,1063.5 280.4,1058.2 280.7,1052.7 280.9,1047.1 281.2,1041.3 281.5,1035.3 281.7,1029.2 282.0,1022.9 282.2,1016.6 282.5,1010.0 282.8,1003.4 283.0,996.7 283.3,989.9 283.5,982.9 283.8,974.6 284.1,965.8 284.3,957.2 284.6,948.6 284.9,939.9 285.1,931.0 285.4,922.1 285.6,913.2 285.9,904.2 286.2,895.1 286.4,886.0 286.7,876.8 286.9,867.6 287.2,858.4 287.5,849.2 287.7,840.0 288.0,830.8 288.2,821.5 288.5,812.3 288.8,803.1 289.0,793.9 289.3,784.7 289.5,775.6 289.8,766.5 290.1,757.4 290.3,748.3 290.6,739.3 290.8,730.3 291.1,721.4 291.4,712.5 291.6,703.7 291.9,694.9 292.2,686.2 292.4,677.5 292.7,668.9 292.9,660.4 293.2,651.9 293.5,643.5 293.7,635.1 294.0,626.8 294.2,618.6 294.5,610.4 294.8,602.4 295.0,594.4 295.3,586.4 295.5,578.6 295.8,570.8 296.1,563.1 296.3,555.5 296.6,547.9 296.8,540.4 297.1,533.0 297.4,525.7 297.6,518.5 297.9,511.3 298.1,504.2 298.4,497.2 298.7,490.3 298.9,483.5 299.2,476.7 299.4,470.0 299.7,463.4 300.8,437.8 301.8,413.5 302.8,390.5 303.9,368.7 304.9,348.1 306.0,328.7 307.0,310.5 308.1,293.5 309.1,277.5 310.1,262.6 311.2,248.8 312.2,235.9 313.3,224.0 314.3,213.0 315.4,203.0 316.4,193.7 317.4,185.3 318.5,177.7 319.5,170.9 320.6,164.7 321.6,159.2 322.7,154.4 323.7,150.3 324.7,146.7 325.8,143.7 326.8,141.2 327.9,139.2 328.9,137.8 329.9,136.8 331.0,136.2 332.0,136.1 333.1,136.3 334.1,136.9 335.2,137.8 336.2,139.1 337.2,140.7 338.3,142.6 339.3,144.8 340.4,147.2 341.4,149.8 342.5,152.7 343.5,155.8 344.5,159.1 345.6,162.6 346.6,166.2 347.7,170.0 348.7,173.9 349.8,178.0 350.8,182.2 351.8,186.5 352.9,190.9 353.9,195.4 355.0,200.0 356.0,204.7 357.1,209.4 358.1,214.1 359.1,219.0 360.2,223.8 361.2,228.7 362.3,233.7 363.3,238.6 364.4,243.6 365.4,248.6 366.4,253.6 367.5,258.6 368.5,263.6 369.6,268.6 370.6,273.5 371.7,278.5 372.7,283.4 373.7,288.4 374.8,293.3 375.8,298.1 376.9,303.0 377.9,307.8 379.0,312.5 380.0,317.3 381.0,321.9 382.1,326.6 383.1,331.2 384.2,335.7 385.2,340.2 386.3,344.7 387.3,349.1 388.3,353.5 389.4,357.8 390.4,362.0 391.5,366.2 392.5,370.4 393.6,374.4 394.6,378.5 395.6,382.4 396.7,386.3 397.7,390.2 398.8,394.0 399.8,397.7 400.9,401.4 401.9,405.0 402.9,408.6 404.0,412.1 405.0,415.5 406.1,418.9 407.1,422.2 408.2,425.5 409.2,428.7 410.2,431.8 411.3,434.9 412.3,438.0 413.4,440.9 414.4,443.8 415.5,446.7 416.5,449.5 417.5,452.3 418.6,455.0 419.6,457.6 420.7,460.2 421.7,462.7 422.8,465.2 423.8,467.6 424.8,470.0 425.9,472.3 426.9,474.6 428.0,476.8 429.0,479.0 430.1,481.1 431.1,483.2 432.1,485.2 433.2,487.2 434.2,489.1 435.3,491.0 436.3,492.8 437.4,494.6 438.4,496.4 439.4,498.1 440.5,499.8 441.5,501.4 442.6,503.0 443.6,504.5 444.7,506.0 445.7,507.5 446.7,508.9 447.8,510.3 448.8,511.6 449.9,513.0 450.9,514.2 452.0,515.5 453.0,516.7 454.0,517.9 455.1,519.0 456.1,520.1 457.2,521.2 458.2,522.2 459.3,523.2 460.3,524.2 461.3,525.1 462.4,526.1 463.4,527.0 464.5,527.8 465.5,528.6 466.6,529.5 467.6,530.2 468.6,531.0 469.7,531.7 470.7,532.4 471.8,533.1 472.8,533.7 473.8,534.4 474.9,535.0 475.9,535.6 477.0,536.1 478.0,536.7 479.1,537.2 480.1,537.7 481.1,538.2 482.2,538.6 483.2,539.0 484.3,539.5 485.3,539.9 486.4,540.2 487.4,540.6 488.4,540.9 489.5,541.3 490.5,541.6 491.6,541.9 492.6,542.2 493.7,542.4 494.7,542.7 495.7,542.9 496.8,543.1 497.8,543.3 498.9,543.5 499.9,543.7 501.0,543.9 502.0,544.0 503.0,544.2 504.1,544.3 505.1,544.4 506.2,544.5 507.2,544.6 508.3,544.7 509.3,544.8 510.3,544.8 511.4,544.9 512.4,544.9 513.5,544.9 514.5,545.0 515.6,545.0 516.6,545.0 517.6,545.0 518.7,545.0 519.7,544.9 520.8,544.9 521.8,544.9 522.9,544.8 523.9,544.8 524.9,544.7 526.0,544.7 527.0,544.6 528.1,544.5 529.1,544.4 530.2,544.3 531.2,544.2 532.2,544.1 533.3,544.0 534.3,543.9 535.4,543.8 536.4,543.7 537.5,543.5 538.5,543.4 539.5,543.3 540.6,543.1 541.6,543.0 542.7,542.8 543.7,542.7 544.8,542.5 545.8,542.4 546.8,542.2 547.9,542.0 548.9,541.9 550.0,541.7 551.0,541.5 552.1,541.3 553.1,541.2 554.1,541.0 555.2,540.8 556.2,540.6 557.3,540.4 558.3,540.2 559.4,540.0 560.4,539.8 561.4,539.6 562.5,539.4 563.5,539.2 564.6,539.0 565.6,538.8 566.7,538.6 567.7,538.4 568.7,538.2 569.8,538.0 570.8,537.8 575.0,536.9 579.2,536.0 583.3,535.1 587.5,534.3 591.7,533.4 595.9,532.5 600.0,531.6 604.2,530.7 608.4,529.8 612.5,529.0 616.7,528.1 620.9,527.3 625.0,526.5 629.2,525.7 633.4,524.9 637.6,524.1 641.7,523.3 645.9,522.6 650.1,521.9 654.2,521.2 658.4,520.5 662.6,519.8 666.8,519.2 670.9,518.5 675.1,517.9 679.3,517.3 683.4,516.7 687.6,516.2 691.8,515.6 696.0,515.1 700.1,514.6 704.3,514.1 708.5,513.6 712.6,513.1 716.8,512.7 721.0,512.2 725.2,511.8 729.3,511.4 733.5,511.0 737.7,510.6 741.8,510.2 746.0,509.9 750.2,509.5 754.3,509.2 758.5,508.9 762.7,508.6 766.9,508.3 771.0,508.0 775.2,507.7 779.4,507.5 783.5,507.2 787.7,506.9 791.9,506.7 796.1,506.5 800.2,506.2 804.4,506.0 808.6,505.8 812.7,505.6 816.9,505.4 821.1,505.2 825.3,505.1 829.4,504.9 833.6,504.7 837.8,504.6 841.9,504.4 846.1,504.3 850.3,504.1 854.5,504.0 858.6,503.8 862.8,503.7 867.0,503.6 871.1,503.5 875.3,503.3 879.5,503.2 883.6,503.1 887.8,503.0 892.0,502.9 896.2,502.8 900.3,502.7 904.5,502.6 908.7,502.6 912.8,502.5 917.0,502.4 921.2,502.3 925.4,502.2 929.5,502.2 933.7,502.1 937.9,502.0 942.0,502.0 946.2,501.9 950.4,501.8 954.6,501.8 958.7,501.7 962.9,501.7 967.1,501.6 971.2,501.6 975.4,501.5 979.6,501.5 983.8,501.4 987.9,501.4 992.1,501.3 996.3,501.3 1000.4,501.3 1004.6,501.2 1008.8,501.2 1013.0,501.1 1017.1,501.1 1021.3,501.1 1025.5,501.0 1029.6,501.0 1033.8,501.0 1038.0,501.0 1042.1,500.9 1046.3,500.9 1050.5,500.9 1054.7,500.8 1058.8,500.8 1063.0,500.8 1067.2,500.8 1071.3,500.7 1075.5,500.7 1079.7,500.7 1083.9,500.7 1088.0,500.7 1092.2,500.6 1144.3,500.5 1196.5,500.3 1248.6,500.3 1300.8,500.2 1352.9,500.2 1405.0,500.2 1457.2,500.1 1509.3,500.1 1561.4,500.1 1613.6,500.2 1665.7,500.2 1717.8,500.2 1770.0,500.2 1822.1,500.2 1874.3,500.2 1926.4,500.2 1978.5,500.2 2030.7,500.2 2082.8,500.2 2134.9,500.2 2187.1,500.2 2239.2,500.2 2291.4,500.2 2343.5,500.2"/>
<polyline stroke="#5ec6cb" points="258.0,679.5 258.3,703.5 258.5,726.7 258.8,749.1 259.0,770.8 259.3,791.8 259.6,812.2 259.8,831.8 260.1,850.9 260.3,869.4 260.6,887.3 260.9,904.8 261.1,921.7 261.4,939.8 261.6,955.2 261.9,962.6 262.2,967.8 262.4,972.6 262.7,977.1 263.0,981.3 263.2,985.1 263.5,988.7 263.7,992.0 264.0,995.0 264.3,997.8 264.5,1000.4 264.8,1002.8 265.0,1005.1 265.3,1007.2 265.6,1009.2 265.8,1011.0 266.1,1012.8 266.3,1014.6 266.6,1016.2 266.9,1017.9 267.1,1019.5 267.4,1021.2 267.6,1022.9 267.9,1024.7 268.2,1026.5 268.4,1028.5 268.7,1030.5 268.9,1032.7 269.2,1035.1 269.5,1037.6 269.7,1040.1 270.0,1042.8 270.3,1045.5 270.5,1048.2 270.8,1051.0 271.0,1053.7 271.3,1056.5 271.6,1059.1 271.8,1061.7 272.1,1064.3 272.3,1066.7 272.6,1068.9 272.9,1071.0 273.1,1073.0 273.4,1074.7 273.6,1076.2 273.9,1077.5 274.2,1078.5 274.4,1079.2 274.7,1079.7 274.9,1079.8 275.2,1079.4 275.5,1078.7 275.7,1077.6 276.0,1076.1 276.2,1074.3 276.5,1072.2 276.8,1069.8 277.0,1067.2 277.3,1064.4 277.6,1061.3 277.8,1058.1 278.1,1054.8 278.3,1051.4 278.6,1047.9 278.9,1044.4 279.1,1040.9 279.4,1037.4 279.6,1033.9 279.9,1030.4 280.2,1026.7 280.4,1022.7 280.7,1018.5 280.9,1014.1 281.2,1009.4 281.5,1004.5 281.7,999.4 282.0,994.1 282.2,988.5 282.5,982.7 282.8,976.7 283.0,970.5 283.3,964.1 283.5,957.3 283.8,949.2 284.1,940.4 284.3,931.8 284.6,923.0 284.9,913.9 285.1,904.8 285.4,895.4 285.6,886.0 285.9,876.4 286.2,866.7 286.4,857.0 286.7,847.1 286.9,837.2 287.2,827.2 287.5,817.1 287.7,807.1 288.0,797.0 288.2,786.9 288.5,776.8 288.8,766.6 289.0,756.5 289.3,746.4 289.5,736.4 289.8,726.3 290.1,716.3 290.3,706.3 290.6,696.4 290.8,686.5 291.1,676.7 291.4,666.9 291.6,657.2 291.9,647.6 292.2,638.0 292.4,628.5 292.7,619.1 292.9,609.8 293.2,600.5 293.5,591.4 293.7,582.3 294.0,573.3 294.2,564.4 294.5,555.6 294.8,546.9 295.0,538.3 295.3,529.8 295.5,521.4 295.8,513.1 296.1,504.9 296.3,496.8 296.6,488.9 296.8,481.0 297.1,473.2 297.4,465.5 297.6,458.0 297.9,450.5 298.1,443.1 298.4,435.9 298.7,428.8 298.9,421.7 299.2,414.8 299.4,408.0 299.7,401.3 300.8,375.5 301.8,351.4 302.8,329.0 303.9,308.1 304.9,288.8 306.0,271.1 307.0,254.7 308.1,239.8 309.1,226.1 310.1,213.8 311.2,202.6 312.2,192.6 313.3,183.7 314.3,175.8 315.4,168.8 316.4,162.8 317.4,157.7 318.5,153.3 319.5,149.7 320.6,146.9 321.6,144.7 322.7,143.1 323.7,142.1 324.7,141.7 325.8,141.8 326.8,142.4 327.9,143.4 328.9,144.8 329.9,146.6 331.0,148.7 332.0,151.2 333.1,154.0 334.1,157.0 335.2,160.3 336.2,163.8 337.2,167.6 338.3,171.5 339.3,175.7 340.4,179.9 341.4,184.3 342.5,188.9 343.5,193.6 344.5,198.3 345.6,203.2 346.6,208.1 347.7,213.1 348.7,218.2 349.8,223.3 350.8,228.4 351.8,233.6 352.9,238.8 353.9,244.0 355.0,249.2 356.0,254.4 357.1,259.6 358.1,264.8 359.1,270.0 360.2,275.2 361.2,280.4 362.3,285.5 363.3,290.6 364.4,295.6 365.4,300.7 366.4,305.6 367.5,310.6 368.5,315.5 369.6,320.3 370.6,325.1 371.7,329.9 372.7,334.6 373.7,339.2 374.8,343.8 375.8,348.3 376.9,352.8 377.9,357.2 379.0,361.5 380.0,365.8 381.0,370.0 382.1,374.2 383.1,378.3 384.2,382.3 385.2,386.3 386.3,390.2 387.3,394.1 388.3,397.8 389.4,401.5 390.4,405.2 391.5,408.8 392.5,412.3 393.6,415.8 394.6,419.2 395.6,422.5 396.7,425.8 397.7,429.0 398.8,432.2 399.8,435.3 400.9,438.3 401.9,441.3 402.9,444.2 404.0,447.0 405.0,449.8 406.1,452.6 407.1,455.2 408.2,457.9 409.2,460.4 410.2,462.9 411.3,465.4 412.3,467.8 413.4,470.1 414.4,472.4 415.5,474.7 416.5,476.9 417.5,479.0 418.6,481.1 419.6,483.2 420.7,485.2 421.7,487.1 422.8,489.0 423.8,490.9 424.8,492.7 425.9,494.4 426.9,496.2 428.0,497.8 429.0,499.5 430.1,501.1 431.1,502.6 432.1,504.1 433.2,505.6 434.2,507.0 435.3,508.4 436.3,509.8 437.4,511.1 438.4,512.4 439.4,513.6 440.5,514.8 441.5,516.0 442.6,517.1 443.6,518.3 444.7,519.3 445.7,520.4 446.7,521.4 447.8,522.4 448.8,523.3 449.9,524.2 450.9,525.1 452.0,526.0 453.0,526.8 454.0,527.6 455.1,528.4 456.1,529.2 457.2,529.9 458.2,530.6 459.3,531.3 460.3,531.9 461.3,532.5 462.4,533.1 463.4,533.7 464.5,534.3 465.5,534.8 466.6,535.3 467.6,535.8 468.6,536.3 469.7,536.8 470.7,537.2 471.8,537.6 472.8,538.0 473.8,538.4 474.9,538.7 475.9,539.1 477.0,539.4 478.0,539.7 479.1,540.0 480.1,540.3 481.1,540.6 482.2,540.8 483.2,541.0 484.3,541.2 485.3,541.5 486.4,541.6 487.4,541.8 488.4,542.0 489.5,542.1 490.5,542.3 491.6,542.4 492.6,542.5 493.7,542.6 494.7,542.7 495.7,542.8 496.8,542.9 497.8,542.9 498.9,543.0 499.9,543.0 501.0,543.0 502.0,543.0 503.0,543.1 504.1,543.1 505.1,543.1 506.2,543.0 507.2,543.0 508.3,543.0 509.3,543.0 510.3,542.9 511.4,542.9 512.4,542.8 513.5,542.7 514.5,542.7 515.6,542.6 516.6,542.5 517.6,542.4 518.7,542.3 519.7,542.2 520.8,542.1 521.8,542.0 522.9,541.9 523.9,541.7 524.9,541.6 526.0,541.5 527.0,541.3 528.1,541.2 529.1,541.1 530.2,540.9 531.2,540.8 532.2,540.6 533.3,540.4 534.3,540.3 535.4,540.1 536.4,539.9 537.5,539.8 538.5,539.6 539.5,539.4 540.6,539.2 541.6,539.0 542.7,538.9 543.7,538.7 544.8,538.5 545.8,538.3 546.8,538.1 547.9,537.9 548.9,537.7 550.0,537.5 551.0,537.3 552.1,537.1 553.1,536.9 554.1,536.7 555.2,536.5 556.2,536.3 557.3,536.1 558.3,535.8 559.4,535.6 560.4,535.4 561.4,535.2 562.5,535.0 563.5,534.8 564.6,534.6 565.6,534.3 566.7,534.1 567.7,533.9 568.7,533.7 569.8,533.5 570.8,533.2 575.0,532.4 579.2,531.5 583.3,530.6 587.5,529.8 591.7,528.9 595.9,528.0 600.0,527.2 604.2,526.4 608.4,525.5 612.5,524.7 616.7,524.0 620.9,523.2 625.0,522.4 629.2,521.7 633.4,521.0 637.6,520.3 641.7,519.6 645.9,518.9 650.1,518.3 654.2,517.7 658.4,517.1 662.6,516.5 666.8,515.9 670.9,515.4 675.1,514.8 679.3,514.3 683.4,513.8 687.6,513.3 691.8,512.8 696.0,512.4 700.1,512.0 704.3,511.5 708.5,511.1 712.6,510.7 716.8,510.4 721.0,510.0 725.2,509.6 729.3,509.3 733.5,509.0 737.7,508.7 741.8,508.4 746.0,508.1 750.2,507.8 754.3,507.5 758.5,507.2 762.7,507.0 766.9,506.7 771.0,506.5 775.2,506.3 779.4,506.1 783.5,505.9 787.7,505.7 791.9,505.5 796.1,505.3 800.2,505.1 804.4,504.9 808.6,504.8 812.7,504.6 816.9,504.4 821.1,504.3 825.3,504.2 829.4,504.0 833.6,503.9 837.8,503.8 841.9,503.6 846.1,503.5 850.3,503.4 854.5,503.3 858.6,503.2 862.8,503.1 867.0,503.0 871.1,502.9 875.3,502.8 879.5,502.7 883.6,502.6 887.8,502.5 892.0,502.4 896.2,502.4 900.3,502.3 904.5,502.2 908.7,502.2 912.8,502.1 917.0,502.0 921.2,502.0 925.4,501.9 929.5,501.8 933.7,501.8 937.9,501.7 942.0,501.7 946.2,501.6 950.4,501.6 954.6,501.5 958.7,501.5 962.9,501.4 967.1,501.4 971.2,501.3 975.4,501.3 979.6,501.3 983.8,501.2 987.9,501.2 992.1,501.1 996.3,501.1 1000.4,501.1 1004.6,501.0 1008.8,501.0 1013.0,501.0 1017.1,500.9 1021.3,500.9 1025.5,500.9 1029.6,500.9 1033.8,500.8 1038.0,500.8 1042.1,500.8 1046.3,500.8 1050.5,500.7 1054.7,500.7 1058.8,500.7 1063.0,500.7 1067.2,500.6 1071.3,500.6 1075.5,500.6 1079.7,500.6 1083.9,500.6 1088.0,500.6 1092.2,500.5 1144.3,500.4 1196.5,500.2 1248.6,500.1 1300.8,500.1 1352.9,500.1 1405.0,500.0 1457.2,500.0 1509.3,500.0 1561.4,500.1 1613.6,500.1 1665.7,500.1 1717.8,500.1 1770.0,500.1 1822.1,500.1 1874.3,500.1 1926.4,500.2 1978.5,500.2 2030.7,500.2 2082.8,500.2 2134.9,500.2 2187.1,500.2 2239.2,500.2 2291.4,500.2 2343.5,500.2"/>
</g>
<g font-family="'Liberation Serif', 'Times New Roman', serif" font-size="95" fill="#262626" letter-spacing="-1.2">
<text x="258.6" y="1551" text-anchor="middle">0</text>
<text x="467.2" y="1551" text-anchor="middle">1</text>
<text x="675.7" y="1551" text-anchor="middle">2</text>
<text x="884.2" y="1551" text-anchor="middle">3</text>
<text x="1092.8" y="1551" text-anchor="middle">4</text>
<text x="1301.3" y="1551" text-anchor="middle">5</text>
<text x="1509.9" y="1551" text-anchor="middle">6</text>
<text x="1718.4" y="1551" text-anchor="middle">7</text>
<text x="1927" y="1551" text-anchor="middle">8</text>
<text x="2135.5" y="1551" text-anchor="middle">9</text>
<text x="2344.1" y="1551" text-anchor="middle">10</text>
<text x="230.5" y="1471.7" text-anchor="end">-5</text>
<text x="230.5" y="1284" text-anchor="end">-4</text>
<text x="230.5" y="1096.2" text-anchor="end">-3</text>
<text x="230.5" y="908.5" text-anchor="end">-2</text>
<text x="230.5" y="720.8" text-anchor="end">-1</text>
<text x="230.5" y="533" text-anchor="end">0</text>
<text x="230.5" y="345.3" text-anchor="end">1</text>
<text x="230.5" y="157.6" text-anchor="end">2</text>
</g>
<clipPath id="cxl"><rect x="1100" y="1480" width="420" height="150.3"/></clipPath>
<g font-family="'Liberation Serif', 'Times New Roman', serif" fill="#262626" font-size="116">
<g clip-path="url(#cxl)"><text transform="translate(1128.7,1617.7) scale(1.07,1)" y="0"><tspan x="1.3 40.1 71.6 160.1">time</tspan><tspan font-size="128" x="216.5" dy="-1" textLength="33.8" lengthAdjust="spacingAndGlyphs">(</tspan><tspan x="251.5" dy="1">s</tspan><tspan font-size="128" x="298.5" dy="-1" textLength="33.7" lengthAdjust="spacingAndGlyphs">)</tspan></text></g>
<text transform="translate(105.6,1049.5) rotate(-90) scale(1.07,1)" x="-2.1 47.3 104.3 163.2 203.9 240.7 299.3 336.0 366.5 397.6 455.7 495.3 543.5" y="0">control force</text>
</g>
<rect x="285.5" y="106.5" width="237.2" height="481" fill="none" stroke="#000" stroke-width="2.9"/>
<path d="M524.5 587.7L752 644.2" stroke="#000" stroke-width="2.9" fill="none"/>
<path d="M780 652.4L743.2 626.3L750 643.7L736.1 656.6Z" fill="#000"/>
<rect x="604.5" y="61.5" width="1708.5" height="236.9" fill="#fff" stroke="#262626" stroke-width="6.6"/>
<path d="M616.3 123.6h116.5" stroke="#4d5a72" stroke-width="7" fill="none"/>
<g fill="#000" font-family="'Liberation Serif', 'Times New Roman', serif"><text transform="translate(734,146.8) skewX(-12) scale(1.08,1)" font-family="'DejaVu Sans', sans-serif" font-weight="200" font-size="78" stroke="#000" stroke-width="1.5">ε</text><text x="785.1" y="160.3" font-size="64" font-style="italic" textLength="87" lengthAdjust="spacingAndGlyphs">opt</text><text transform="translate(875.2,153.1) scale(1.385,0.95)" font-size="97">=</text><text x="949.2" y="146.8" font-size="97">0</text></g>
<path d="M1185.3 123.6h116.5" stroke="#00589b" stroke-width="7" fill="none"/>
<g fill="#000" font-family="'Liberation Serif', 'Times New Roman', serif"><text transform="translate(1303,146.8) skewX(-12) scale(1.08,1)" font-family="'DejaVu Sans', sans-serif" font-weight="200" font-size="78" stroke="#000" stroke-width="1.5">ε</text><text x="1354.1" y="160.3" font-size="64" font-style="italic" textLength="87" lengthAdjust="spacingAndGlyphs">opt</text><text transform="translate(1444.2,153.1) scale(1.385,0.95)" font-size="97">=</text><text x="1518.2 1565.2 1589.2 1636.2 1683.2" y="146.8" font-size="97">0.049</text></g>
<path d="M1754.3 123.6h116.5" stroke="#fbc013" stroke-width="7" fill="none"/>
<g fill="#000" font-family="'Liberation Serif', 'Times New Roman', serif"><text transform="translate(1872,146.8) skewX(-12) scale(1.08,1)" font-family="'DejaVu Sans', sans-serif" font-weight="200" font-size="78" stroke="#000" stroke-width="1.5">ε</text><text x="1923.1" y="160.3" font-size="64" font-style="italic" textLength="87" lengthAdjust="spacingAndGlyphs">opt</text><text transform="translate(2013.2,153.1) scale(1.385,0.95)" font-size="97">=</text><text x="2087.2 2134.2 2158.2 2205.2 2252.2" y="146.8" font-size="97">0.082</text></g>
<path d="M616.3 236.6h116.5" stroke="#f3754a" stroke-width="7" fill="none"/>
<g fill="#000" font-family="'Liberation Serif', 'Times New Roman', serif"><text transform="translate(734,259.8) skewX(-12) scale(1.08,1)" font-family="'DejaVu Sans', sans-serif" font-weight="200" font-size="78" stroke="#000" stroke-width="1.5">ε</text><text x="785.1" y="273.3" font-size="64" font-style="italic" textLength="87" lengthAdjust="spacingAndGlyphs">opt</text><text transform="translate(875.2,266.1) scale(1.385,0.95)" font-size="97">=</text><text x="949.2 996.2 1020.2 1067.2 1114.2" y="259.8" font-size="97">0.126</text></g>
<path d="M1185.3 236.6h116.5" stroke="#5f7748" stroke-width="7" fill="none"/>
<g fill="#000" font-family="'Liberation Serif', 'Times New Roman', serif"><text transform="translate(1303,259.8) skewX(-12) scale(1.08,1)" font-family="'DejaVu Sans', sans-serif" font-weight="200" font-size="78" stroke="#000" stroke-width="1.5">ε</text><text x="1354.1" y="273.3" font-size="64" font-style="italic" textLength="87" lengthAdjust="spacingAndGlyphs">opt</text><text transform="translate(1444.2,266.1) scale(1.385,0.95)" font-size="97">=</text><text x="1518.2 1565.2 1589.2 1636.2 1683.2" y="259.8" font-size="97">0.283</text></g>
<path d="M1754.3 236.6h116.5" stroke="#5ec6cb" stroke-width="7" fill="none"/>
<g fill="#000" font-family="'Liberation Serif', 'Times New Roman', serif"><text transform="translate(1872,259.8) skewX(-12) scale(1.08,1)" font-family="'DejaVu Sans', sans-serif" font-weight="200" font-size="78" stroke="#000" stroke-width="1.5">ε</text><text x="1923.1" y="273.3" font-size="64" font-style="italic" textLength="87" lengthAdjust="spacingAndGlyphs">opt</text><text transform="translate(2013.2,266.1) scale(1.385,0.95)" font-size="97">=</text><text x="2087.2 2134.2 2158.2 2205.2 2252.2" y="259.8" font-size="97">0.521</text></g>
<rect x="758.5" y="518.5" width="958.5" height="779.9" fill="#fff"/>
<g fill="url(#chk)" shape-rendering="crispEdges">
<rect x="1263" y="531" width="5" height="24"/>
<rect x="1263" y="578" width="5" height="24"/>
<rect x="1263" y="624" width="5" height="24"/>
<rect x="1263" y="670" width="5" height="24"/>
<rect x="1263" y="717" width="5" height="24"/>
<rect x="1263" y="764" width="5" height="24"/>
<rect x="1263" y="810" width="5" height="24"/>
<rect x="1263" y="856" width="5" height="24"/>
<rect x="1263" y="903" width="5" height="24"/>
<rect x="1263" y="950" width="5" height="22"/>
<rect x="1489" y="531" width="6" height="24"/>
<rect x="1489" y="578" width="6" height="24"/>
<rect x="1489" y="624" width="6" height="24"/>
<rect x="1489" y="670" width="6" height="24"/>
<rect x="1489" y="717" width="6" height="24"/>
<rect x="1489" y="764" width="6" height="24"/>
<rect x="1489" y="810" width="6" height="24"/>
<rect x="1489" y="856" width="6" height="24"/>
<rect x="1489" y="903" width="6" height="24"/>
<rect x="1489" y="950" width="6" height="22"/>
<rect x="762" y="549" width="23" height="3"/>
<rect x="808" y="549" width="24" height="3"/>
<rect x="854" y="549" width="24" height="3"/>
<rect x="901" y="549" width="24" height="3"/>
<rect x="947" y="549" width="24" height="3"/>
<rect x="994" y="549" width="24" height="3"/>
<rect x="1041" y="549" width="24" height="3"/>
<rect x="1087" y="549" width="24" height="3"/>
<rect x="1134" y="549" width="24" height="3"/>
<rect x="1180" y="549" width="24" height="3"/>
<rect x="1227" y="549" width="24" height="3"/>
<rect x="1274" y="549" width="24" height="3"/>
<rect x="1320" y="549" width="24" height="3"/>
<rect x="1367" y="549" width="24" height="3"/>
<rect x="1413" y="549" width="24" height="3"/>
<rect x="1460" y="549" width="24" height="3"/>
<rect x="1507" y="549" width="24" height="3"/>
<rect x="1553" y="549" width="24" height="3"/>
<rect x="1600" y="549" width="24" height="3"/>
<rect x="1646" y="549" width="24" height="3"/>
<rect x="1693" y="549" width="21" height="3"/>
<rect x="762" y="846" width="23" height="4"/>
<rect x="808" y="846" width="24" height="4"/>
<rect x="854" y="846" width="24" height="4"/>
<rect x="901" y="846" width="24" height="4"/>
<rect x="947" y="846" width="24" height="4"/>
<rect x="994" y="846" width="24" height="4"/>
<rect x="1041" y="846" width="24" height="4"/>
<rect x="1087" y="846" width="24" height="4"/>
<rect x="1134" y="846" width="24" height="4"/>
<rect x="1180" y="846" width="24" height="4"/>
<rect x="1227" y="846" width="24" height="4"/>
<rect x="1274" y="846" width="24" height="4"/>
<rect x="1320" y="846" width="24" height="4"/>
<rect x="1367" y="846" width="24" height="4"/>
<rect x="1413" y="846" width="24" height="4"/>
<rect x="1460" y="846" width="24" height="4"/>
<rect x="1507" y="846" width="24" height="4"/>
<rect x="1553" y="846" width="24" height="4"/>
<rect x="1600" y="846" width="24" height="4"/>
<rect x="1646" y="846" width="24" height="4"/>
<rect x="1693" y="846" width="21" height="4"/>
<rect x="762" y="1146" width="23" height="4"/>
<rect x="808" y="1146" width="24" height="4"/>
<rect x="854" y="1146" width="24" height="4"/>
<rect x="901" y="1146" width="24" height="4"/>
<rect x="947" y="1146" width="24" height="4"/>
<rect x="994" y="1146" width="24" height="4"/>
<rect x="1041" y="1146" width="24" height="4"/>
<rect x="1087" y="1146" width="24" height="4"/>
<rect x="1134" y="1146" width="24" height="4"/>
<rect x="1180" y="1146" width="24" height="4"/>
<rect x="1227" y="1146" width="24" height="4"/>
<rect x="1274" y="1146" width="24" height="4"/>
<rect x="1320" y="1146" width="24" height="4"/>
<rect x="1367" y="1146" width="24" height="4"/>
<rect x="1413" y="1146" width="24" height="4"/>
<rect x="1460" y="1146" width="24" height="4"/>
<rect x="1507" y="1146" width="24" height="4"/>
<rect x="1553" y="1146" width="24" height="4"/>
<rect x="1600" y="1146" width="24" height="4"/>
<rect x="1646" y="1146" width="24" height="4"/>
<rect x="1693" y="1146" width="21" height="4"/>
</g>
<g stroke="#262626" stroke-width="6.6" fill="none">
<rect x="758.5" y="518.5" width="958.5" height="779.9"/>
<path d="M814.9 1298.4v-13M814.9 518.5v13M1040.4 1298.4v-13M1040.4 518.5v13M1265.9 1298.4v-13M1265.9 518.5v13M1491.5 1298.4v-13M1491.5 518.5v13M758.5 1148.4h13M1717 1148.4h-13M758.5 998.4h13M1717 998.4h-13M758.5 848.5h13M1717 848.5h-13M758.5 698.5h13M1717 698.5h-13M758.5 548.5h13M1717 548.5h-13"/>
</g>
<g fill="none" stroke-width="7.4" stroke-linejoin="round" clip-path="url(#cin)">
<polyline stroke="#5ec6cb" points="747.2,1670.8 749.5,1645.1 751.7,1619.4 754.0,1593.5 756.2,1567.6 758.5,1541.8 760.8,1516.1 763.0,1490.5 765.3,1465.0 767.5,1439.8 769.8,1414.8 772.0,1390.0 774.3,1365.5 776.5,1341.4 778.8,1317.5 781.1,1294.0 783.3,1270.9 785.6,1248.2 787.8,1225.8 790.1,1203.9 792.3,1182.3 794.6,1161.2 796.8,1140.4 799.1,1120.2 801.4,1100.3 803.6,1080.9 805.9,1061.9 808.1,1043.3 810.4,1025.2 812.6,1007.6 814.9,990.3 817.1,973.5 819.4,957.2 821.6,941.2 823.9,925.7 826.2,910.6 828.4,896.0 830.7,881.7 832.9,867.9 835.2,854.5 837.4,841.5 839.7,828.8 841.9,816.6 844.2,804.8 846.5,793.3 848.7,782.2 851.0,771.5 853.2,761.2 855.5,751.2 857.7,741.5 860.0,732.2 862.2,723.3 864.5,714.6 866.8,706.3 869.0,698.4 871.3,690.7 873.5,683.3 875.8,676.3 878.0,669.5 880.3,663.1 882.5,656.9 884.8,651.0 887.1,645.3 889.3,639.9 891.6,634.8 893.8,630.0 896.1,625.4 898.3,621.0 900.6,616.9 902.8,613.0 905.1,609.3 907.3,605.8 909.6,602.6 911.9,599.6 914.1,596.7 916.4,594.1 918.6,591.7 920.9,589.4 923.1,587.4 925.4,585.5 927.6,583.8 929.9,582.3 932.2,580.9 934.4,579.7 936.7,578.7 938.9,577.8 941.2,577.1 943.4,576.5 945.7,576.1 947.9,575.7 950.2,575.6 952.5,575.5 954.7,575.6 957.0,575.8 959.2,576.2 961.5,576.6 963.7,577.2 966.0,577.8 968.2,578.6 970.5,579.5 972.8,580.5 975.0,581.5 977.3,582.7 979.5,584.0 981.8,585.3 984.0,586.8 986.3,588.3 988.5,589.9 990.8,591.6 993.1,593.3 995.3,595.1 997.6,597.0 999.8,599.0 1002.1,601.0 1004.3,603.1 1006.6,605.3 1008.8,607.5 1011.1,609.8 1013.3,612.1 1015.6,614.5 1017.9,616.9 1020.1,619.4 1022.4,621.9 1024.6,624.5 1026.9,627.1 1029.1,629.8 1031.4,632.5 1033.6,635.2 1035.9,638.0 1038.2,640.8 1040.4,643.7 1042.7,646.6 1044.9,649.5 1047.2,652.4 1049.4,655.4 1051.7,658.4 1053.9,661.4 1056.2,664.5 1058.5,667.6 1060.7,670.7 1063.0,673.8 1065.2,676.9 1067.5,680.1 1069.7,683.2 1072.0,686.4 1074.2,689.6 1076.5,692.9 1078.8,696.1 1081.0,699.3 1083.3,702.6 1085.5,705.9 1087.8,709.1 1090.0,712.4 1092.3,715.7 1094.5,719.0 1096.8,722.3 1099.0,725.7 1101.3,729.0 1103.6,732.3 1105.8,735.6 1108.1,739.0 1110.3,742.3 1112.6,745.6 1114.8,749.0 1117.1,752.3 1119.3,755.6 1121.6,759.0 1123.9,762.3 1126.1,765.6 1128.4,769.0 1130.6,772.3 1132.9,775.6 1135.1,778.9 1137.4,782.3 1139.6,785.6 1141.9,788.9 1144.2,792.2 1146.4,795.5 1148.7,798.7 1150.9,802.0 1153.2,805.3 1155.4,808.6 1157.7,811.8 1159.9,815.1 1162.2,818.3 1164.5,821.5 1166.7,824.7 1169.0,827.9 1171.2,831.1 1173.5,834.3 1175.7,837.5 1178.0,840.7 1180.2,843.8 1182.5,847.0 1184.8,850.1 1187.0,853.2 1189.3,856.3 1191.5,859.4 1193.8,862.5 1196.0,865.6 1198.3,868.6 1200.5,871.7 1202.8,874.7 1205.0,877.7 1207.3,880.7 1209.6,883.7 1211.8,886.7 1214.1,889.7 1216.3,892.6 1218.6,895.5 1220.8,898.4 1223.1,901.4 1225.3,904.2 1227.6,907.1 1229.9,910.0 1232.1,912.8 1234.4,915.6 1236.6,918.5 1238.9,921.2 1241.1,924.0 1243.4,926.8 1245.6,929.5 1247.9,932.3 1250.2,935.0 1252.4,937.7 1254.7,940.4 1256.9,943.1 1259.2,945.7 1261.4,948.4 1263.7,951.0 1265.9,953.6 1268.2,956.2 1270.5,958.7 1272.7,961.3 1275.0,963.8 1277.2,966.4 1279.5,968.9 1281.7,971.4 1284.0,973.9 1286.2,976.3 1288.5,978.8 1290.7,981.2 1293.0,983.6 1295.3,986.0 1297.5,988.4 1299.8,990.7 1302.0,993.1 1304.3,995.4 1306.5,997.7 1308.8,1000.0 1311.0,1002.3 1313.3,1004.6 1315.6,1006.8 1317.8,1009.1 1320.1,1011.3 1322.3,1013.5 1324.6,1015.7 1326.8,1017.8 1329.1,1020.0 1331.3,1022.1 1333.6,1024.2 1335.9,1026.4 1338.1,1028.4 1340.4,1030.5 1342.6,1032.6 1344.9,1034.6 1347.1,1036.6 1349.4,1038.7 1351.6,1040.6 1353.9,1042.6 1356.2,1044.6 1358.4,1046.5 1360.7,1048.5 1362.9,1050.4 1365.2,1052.3 1367.4,1054.2 1369.7,1056.1 1371.9,1057.9 1374.2,1059.8 1376.5,1061.6 1378.7,1063.4 1381.0,1065.2 1383.2,1067.0 1385.5,1068.7 1387.7,1070.5 1390.0,1072.2 1392.2,1074.0 1394.5,1075.7 1396.7,1077.4 1399.0,1079.0 1401.3,1080.7 1403.5,1082.4 1405.8,1084.0 1408.0,1085.6 1410.3,1087.2 1412.5,1088.8 1414.8,1090.4 1417.0,1092.0 1419.3,1093.5 1421.6,1095.1 1423.8,1096.6 1426.1,1098.1 1428.3,1099.6 1430.6,1101.1 1432.8,1102.6 1435.1,1104.0 1437.3,1105.5 1439.6,1106.9 1441.9,1108.3 1444.1,1109.7 1446.4,1111.1 1448.6,1112.5 1450.9,1113.9 1453.1,1115.2 1455.4,1116.6 1457.6,1117.9 1459.9,1119.2 1462.2,1120.5 1464.4,1121.8 1466.7,1123.1 1468.9,1124.3 1471.2,1125.6 1473.4,1126.8 1475.7,1128.1 1477.9,1129.3 1480.2,1130.5 1482.4,1131.7 1484.7,1132.9 1487.0,1134.0 1489.2,1135.2 1491.5,1136.3 1493.7,1137.5 1496.0,1138.6 1498.2,1139.7 1500.5,1140.8 1502.7,1141.9 1505.0,1143.0 1507.3,1144.1 1509.5,1145.1 1511.8,1146.2 1514.0,1147.2 1516.3,1148.2 1518.5,1149.3 1520.8,1150.3 1523.0,1151.3 1525.3,1152.2 1527.6,1153.2 1529.8,1154.2 1532.1,1155.1 1534.3,1156.1 1536.6,1157.0 1538.8,1157.9 1541.1,1158.8 1543.3,1159.7 1545.6,1160.6 1547.9,1161.5 1550.1,1162.4 1552.4,1163.2 1554.6,1164.1 1556.9,1164.9 1559.1,1165.8 1561.4,1166.6 1563.6,1167.4 1565.9,1168.2 1568.2,1169.0 1570.4,1169.8 1572.7,1170.6 1574.9,1171.4 1577.2,1172.1 1579.4,1172.9 1581.7,1173.6 1583.9,1174.4 1586.2,1175.1 1588.4,1175.8 1590.7,1176.5 1593.0,1177.2 1595.2,1177.9 1597.5,1178.6 1599.7,1179.3 1602.0,1179.9 1604.2,1180.6 1606.5,1181.2 1608.7,1181.9 1611.0,1182.5 1613.3,1183.2 1615.5,1183.8 1617.8,1184.4 1620.0,1185.0 1622.3,1185.6 1624.5,1186.2 1626.8,1186.8 1629.0,1187.3 1631.3,1187.9 1633.6,1188.5 1635.8,1189.0 1638.1,1189.6 1640.3,1190.1 1642.6,1190.6 1644.8,1191.2 1647.1,1191.7 1649.3,1192.2 1651.6,1192.7 1653.9,1193.2 1656.1,1193.7 1658.4,1194.1 1660.6,1194.6 1662.9,1195.1 1665.1,1195.6 1667.4,1196.0 1669.6,1196.5 1671.9,1196.9 1674.1,1197.3 1676.4,1197.8 1678.7,1198.2 1680.9,1198.6 1683.2,1199.0 1685.4,1199.4 1687.7,1199.8 1689.9,1200.2 1692.2,1200.6 1694.4,1201.0 1696.7,1201.4 1699.0,1201.7 1701.2,1202.1 1703.5,1202.5 1705.7,1202.8 1708.0,1203.2 1710.2,1203.5 1712.5,1203.8 1714.7,1204.2 1717.0,1204.5"/>
<polyline stroke="#5f7748" points="747.2,1720.8 749.5,1697.2 751.7,1673.6 754.0,1650.0 756.2,1626.5 758.5,1603.0 760.8,1579.6 763.0,1556.4 765.3,1533.3 767.5,1510.4 769.8,1487.6 772.0,1465.1 774.3,1442.8 776.5,1420.7 778.8,1398.8 781.1,1377.3 783.3,1356.0 785.6,1334.9 787.8,1314.2 790.1,1293.7 792.3,1273.6 794.6,1253.8 796.8,1234.2 799.1,1215.0 801.4,1196.1 803.6,1177.6 805.9,1159.3 808.1,1141.4 810.4,1123.8 812.6,1106.6 814.9,1089.6 817.1,1073.0 819.4,1056.7 821.6,1040.8 823.9,1025.2 826.2,1009.9 828.4,994.9 830.7,980.3 832.9,965.9 835.2,951.9 837.4,938.2 839.7,924.8 841.9,911.8 844.2,899.0 846.5,886.5 848.7,874.4 851.0,862.5 853.2,851.0 855.5,839.7 857.7,828.7 860.0,818.0 862.2,807.6 864.5,797.5 866.8,787.6 869.0,778.1 871.3,768.8 873.5,759.7 875.8,750.9 878.0,742.4 880.3,734.1 882.5,726.1 884.8,718.3 887.1,710.7 889.3,703.4 891.6,696.4 893.8,689.5 896.1,682.9 898.3,676.5 900.6,670.4 902.8,664.4 905.1,658.7 907.3,653.2 909.6,647.9 911.9,642.7 914.1,637.8 916.4,633.1 918.6,628.6 920.9,624.2 923.1,620.1 925.4,616.1 927.6,612.3 929.9,608.7 932.2,605.2 934.4,602.0 936.7,598.9 938.9,595.9 941.2,593.1 943.4,590.5 945.7,588.0 947.9,585.7 950.2,583.5 952.5,581.5 954.7,579.6 957.0,577.9 959.2,576.2 961.5,574.8 963.7,573.4 966.0,572.2 968.2,571.1 970.5,570.1 972.8,569.3 975.0,568.5 977.3,567.9 979.5,567.4 981.8,567.0 984.0,566.8 986.3,566.6 988.5,566.5 990.8,566.5 993.1,566.6 995.3,566.9 997.6,567.2 999.8,567.6 1002.1,568.1 1004.3,568.7 1006.6,569.4 1008.8,570.1 1011.1,571.0 1013.3,571.9 1015.6,572.9 1017.9,574.0 1020.1,575.1 1022.4,576.3 1024.6,577.6 1026.9,579.0 1029.1,580.4 1031.4,581.9 1033.6,583.5 1035.9,585.1 1038.2,586.8 1040.4,588.5 1042.7,590.4 1044.9,592.2 1047.2,594.1 1049.4,596.1 1051.7,598.1 1053.9,600.2 1056.2,602.3 1058.5,604.4 1060.7,606.7 1063.0,608.9 1065.2,611.2 1067.5,613.5 1069.7,615.9 1072.0,618.3 1074.2,620.8 1076.5,623.3 1078.8,625.8 1081.0,628.4 1083.3,631.0 1085.5,633.6 1087.8,636.2 1090.0,638.9 1092.3,641.7 1094.5,644.4 1096.8,647.2 1099.0,650.0 1101.3,652.8 1103.6,655.6 1105.8,658.5 1108.1,661.4 1110.3,664.3 1112.6,667.2 1114.8,670.2 1117.1,673.2 1119.3,676.1 1121.6,679.1 1123.9,682.2 1126.1,685.2 1128.4,688.2 1130.6,691.3 1132.9,694.4 1135.1,697.5 1137.4,700.6 1139.6,703.7 1141.9,706.8 1144.2,709.9 1146.4,713.1 1148.7,716.2 1150.9,719.4 1153.2,722.5 1155.4,725.7 1157.7,728.8 1159.9,732.0 1162.2,735.2 1164.5,738.4 1166.7,741.6 1169.0,744.8 1171.2,747.9 1173.5,751.1 1175.7,754.3 1178.0,757.5 1180.2,760.7 1182.5,763.9 1184.8,767.1 1187.0,770.3 1189.3,773.5 1191.5,776.7 1193.8,779.8 1196.0,783.0 1198.3,786.2 1200.5,789.4 1202.8,792.5 1205.0,795.7 1207.3,798.9 1209.6,802.0 1211.8,805.2 1214.1,808.3 1216.3,811.5 1218.6,814.6 1220.8,817.7 1223.1,820.8 1225.3,823.9 1227.6,827.0 1229.9,830.1 1232.1,833.2 1234.4,836.3 1236.6,839.4 1238.9,842.4 1241.1,845.5 1243.4,848.5 1245.6,851.5 1247.9,854.6 1250.2,857.6 1252.4,860.6 1254.7,863.5 1256.9,866.5 1259.2,869.5 1261.4,872.4 1263.7,875.4 1265.9,878.3 1268.2,881.2 1270.5,884.1 1272.7,887.0 1275.0,889.9 1277.2,892.8 1279.5,895.7 1281.7,898.5 1284.0,901.3 1286.2,904.2 1288.5,907.0 1290.7,909.8 1293.0,912.5 1295.3,915.3 1297.5,918.1 1299.8,920.8 1302.0,923.5 1304.3,926.2 1306.5,928.9 1308.8,931.6 1311.0,934.3 1313.3,936.9 1315.6,939.6 1317.8,942.2 1320.1,944.8 1322.3,947.4 1324.6,950.0 1326.8,952.6 1329.1,955.1 1331.3,957.7 1333.6,960.2 1335.9,962.7 1338.1,965.2 1340.4,967.7 1342.6,970.1 1344.9,972.6 1347.1,975.0 1349.4,977.5 1351.6,979.9 1353.9,982.2 1356.2,984.6 1358.4,987.0 1360.7,989.3 1362.9,991.7 1365.2,994.0 1367.4,996.3 1369.7,998.6 1371.9,1000.8 1374.2,1003.1 1376.5,1005.3 1378.7,1007.6 1381.0,1009.8 1383.2,1012.0 1385.5,1014.1 1387.7,1016.3 1390.0,1018.5 1392.2,1020.6 1394.5,1022.7 1396.7,1024.8 1399.0,1026.9 1401.3,1029.0 1403.5,1031.0 1405.8,1033.1 1408.0,1035.1 1410.3,1037.1 1412.5,1039.1 1414.8,1041.1 1417.0,1043.1 1419.3,1045.0 1421.6,1047.0 1423.8,1048.9 1426.1,1050.8 1428.3,1052.7 1430.6,1054.6 1432.8,1056.5 1435.1,1058.3 1437.3,1060.2 1439.6,1062.0 1441.9,1063.8 1444.1,1065.6 1446.4,1067.4 1448.6,1069.1 1450.9,1070.9 1453.1,1072.6 1455.4,1074.4 1457.6,1076.1 1459.9,1077.8 1462.2,1079.5 1464.4,1081.1 1466.7,1082.8 1468.9,1084.4 1471.2,1086.1 1473.4,1087.7 1475.7,1089.3 1477.9,1090.9 1480.2,1092.4 1482.4,1094.0 1484.7,1095.5 1487.0,1097.1 1489.2,1098.6 1491.5,1100.1 1493.7,1101.6 1496.0,1103.1 1498.2,1104.5 1500.5,1106.0 1502.7,1107.4 1505.0,1108.9 1507.3,1110.3 1509.5,1111.7 1511.8,1113.1 1514.0,1114.5 1516.3,1115.8 1518.5,1117.2 1520.8,1118.5 1523.0,1119.8 1525.3,1121.2 1527.6,1122.5 1529.8,1123.8 1532.1,1125.0 1534.3,1126.3 1536.6,1127.6 1538.8,1128.8 1541.1,1130.0 1543.3,1131.3 1545.6,1132.5 1547.9,1133.7 1550.1,1134.8 1552.4,1136.0 1554.6,1137.2 1556.9,1138.3 1559.1,1139.5 1561.4,1140.6 1563.6,1141.7 1565.9,1142.8 1568.2,1143.9 1570.4,1145.0 1572.7,1146.1 1574.9,1147.1 1577.2,1148.2 1579.4,1149.2 1581.7,1150.3 1583.9,1151.3 1586.2,1152.3 1588.4,1153.3 1590.7,1154.3 1593.0,1155.3 1595.2,1156.2 1597.5,1157.2 1599.7,1158.1 1602.0,1159.1 1604.2,1160.0 1606.5,1160.9 1608.7,1161.8 1611.0,1162.7 1613.3,1163.6 1615.5,1164.5 1617.8,1165.4 1620.0,1166.2 1622.3,1167.1 1624.5,1167.9 1626.8,1168.8 1629.0,1169.6 1631.3,1170.4 1633.6,1171.2 1635.8,1172.0 1638.1,1172.8 1640.3,1173.6 1642.6,1174.3 1644.8,1175.1 1647.1,1175.8 1649.3,1176.6 1651.6,1177.3 1653.9,1178.0 1656.1,1178.8 1658.4,1179.5 1660.6,1180.2 1662.9,1180.9 1665.1,1181.5 1667.4,1182.2 1669.6,1182.9 1671.9,1183.5 1674.1,1184.2 1676.4,1184.8 1678.7,1185.5 1680.9,1186.1 1683.2,1186.7 1685.4,1187.3 1687.7,1187.9 1689.9,1188.5 1692.2,1189.1 1694.4,1189.7 1696.7,1190.3 1699.0,1190.8 1701.2,1191.4 1703.5,1191.9 1705.7,1192.5 1708.0,1193.0 1710.2,1193.6 1712.5,1194.1 1714.7,1194.6 1717.0,1195.1"/>
<polyline stroke="#f3754a" points="747.2,1739.0 749.5,1717.4 751.7,1695.9 754.0,1674.4 756.2,1652.9 758.5,1631.5 760.8,1610.2 763.0,1589.0 765.3,1568.0 767.5,1547.0 769.8,1526.2 772.0,1505.6 774.3,1485.1 776.5,1464.8 778.8,1444.7 781.1,1424.8 783.3,1405.2 785.6,1385.7 787.8,1366.4 790.1,1347.4 792.3,1328.6 794.6,1310.0 796.8,1291.7 799.1,1273.6 801.4,1255.7 803.6,1238.1 805.9,1220.8 808.1,1203.7 810.4,1186.8 812.6,1170.2 814.9,1153.9 817.1,1137.8 819.4,1122.0 821.6,1106.4 823.9,1091.1 826.2,1076.0 828.4,1061.2 830.7,1046.7 832.9,1032.4 835.2,1018.4 837.4,1004.6 839.7,991.1 841.9,977.8 844.2,964.8 846.5,952.0 848.7,939.5 851.0,927.2 853.2,915.2 855.5,903.4 857.7,891.8 860.0,880.5 862.2,869.4 864.5,858.6 866.8,848.0 869.0,837.6 871.3,827.5 873.5,817.6 875.8,807.9 878.0,798.5 880.3,789.2 882.5,780.2 884.8,771.4 887.1,762.8 889.3,754.5 891.6,746.3 893.8,738.4 896.1,730.6 898.3,723.1 900.6,715.8 902.8,708.6 905.1,701.7 907.3,694.9 909.6,688.4 911.9,682.0 914.1,675.8 916.4,669.9 918.6,664.1 920.9,658.4 923.1,653.0 925.4,647.7 927.6,642.6 929.9,637.7 932.2,632.9 934.4,628.3 936.7,623.9 938.9,619.7 941.2,615.5 943.4,611.6 945.7,607.8 947.9,604.2 950.2,600.7 952.5,597.3 954.7,594.1 957.0,591.1 959.2,588.2 961.5,585.4 963.7,582.8 966.0,580.3 968.2,577.9 970.5,575.7 972.8,573.6 975.0,571.6 977.3,569.8 979.5,568.0 981.8,566.4 984.0,564.9 986.3,563.6 988.5,562.3 990.8,561.2 993.1,560.1 995.3,559.2 997.6,558.4 999.8,557.7 1002.1,557.0 1004.3,556.5 1006.6,556.1 1008.8,555.8 1011.1,555.6 1013.3,555.5 1015.6,555.4 1017.9,555.5 1020.1,555.6 1022.4,555.8 1024.6,556.2 1026.9,556.6 1029.1,557.0 1031.4,557.6 1033.6,558.2 1035.9,558.9 1038.2,559.7 1040.4,560.6 1042.7,561.5 1044.9,562.5 1047.2,563.6 1049.4,564.8 1051.7,566.0 1053.9,567.2 1056.2,568.6 1058.5,570.0 1060.7,571.4 1063.0,573.0 1065.2,574.5 1067.5,576.2 1069.7,577.9 1072.0,579.6 1074.2,581.4 1076.5,583.2 1078.8,585.1 1081.0,587.1 1083.3,589.1 1085.5,591.1 1087.8,593.2 1090.0,595.3 1092.3,597.5 1094.5,599.7 1096.8,601.9 1099.0,604.2 1101.3,606.5 1103.6,608.9 1105.8,611.3 1108.1,613.7 1110.3,616.2 1112.6,618.7 1114.8,621.2 1117.1,623.8 1119.3,626.4 1121.6,629.0 1123.9,631.6 1126.1,634.3 1128.4,637.0 1130.6,639.7 1132.9,642.5 1135.1,645.3 1137.4,648.1 1139.6,650.9 1141.9,653.7 1144.2,656.6 1146.4,659.5 1148.7,662.4 1150.9,665.3 1153.2,668.2 1155.4,671.2 1157.7,674.1 1159.9,677.1 1162.2,680.1 1164.5,683.1 1166.7,686.2 1169.0,689.2 1171.2,692.2 1173.5,695.3 1175.7,698.4 1178.0,701.4 1180.2,704.5 1182.5,707.6 1184.8,710.7 1187.0,713.8 1189.3,716.9 1191.5,720.1 1193.8,723.2 1196.0,726.3 1198.3,729.5 1200.5,732.6 1202.8,735.8 1205.0,738.9 1207.3,742.1 1209.6,745.2 1211.8,748.4 1214.1,751.5 1216.3,754.7 1218.6,757.8 1220.8,761.0 1223.1,764.1 1225.3,767.3 1227.6,770.4 1229.9,773.6 1232.1,776.7 1234.4,779.9 1236.6,783.0 1238.9,786.2 1241.1,789.3 1243.4,792.4 1245.6,795.6 1247.9,798.7 1250.2,801.8 1252.4,804.9 1254.7,808.0 1256.9,811.1 1259.2,814.2 1261.4,817.3 1263.7,820.4 1265.9,823.5 1268.2,826.6 1270.5,829.6 1272.7,832.7 1275.0,835.7 1277.2,838.7 1279.5,841.8 1281.7,844.8 1284.0,847.8 1286.2,850.8 1288.5,853.8 1290.7,856.8 1293.0,859.7 1295.3,862.7 1297.5,865.7 1299.8,868.6 1302.0,871.5 1304.3,874.4 1306.5,877.4 1308.8,880.3 1311.0,883.1 1313.3,886.0 1315.6,888.9 1317.8,891.7 1320.1,894.6 1322.3,897.4 1324.6,900.2 1326.8,903.0 1329.1,905.8 1331.3,908.6 1333.6,911.3 1335.9,914.1 1338.1,916.8 1340.4,919.6 1342.6,922.3 1344.9,925.0 1347.1,927.7 1349.4,930.3 1351.6,933.0 1353.9,935.6 1356.2,938.3 1358.4,940.9 1360.7,943.5 1362.9,946.1 1365.2,948.7 1367.4,951.2 1369.7,953.8 1371.9,956.3 1374.2,958.8 1376.5,961.4 1378.7,963.9 1381.0,966.3 1383.2,968.8 1385.5,971.2 1387.7,973.7 1390.0,976.1 1392.2,978.5 1394.5,980.9 1396.7,983.3 1399.0,985.7 1401.3,988.0 1403.5,990.3 1405.8,992.7 1408.0,995.0 1410.3,997.3 1412.5,999.5 1414.8,1001.8 1417.0,1004.1 1419.3,1006.3 1421.6,1008.5 1423.8,1010.7 1426.1,1012.9 1428.3,1015.1 1430.6,1017.2 1432.8,1019.4 1435.1,1021.5 1437.3,1023.6 1439.6,1025.7 1441.9,1027.8 1444.1,1029.9 1446.4,1032.0 1448.6,1034.0 1450.9,1036.0 1453.1,1038.0 1455.4,1040.0 1457.6,1042.0 1459.9,1044.0 1462.2,1046.0 1464.4,1047.9 1466.7,1049.8 1468.9,1051.8 1471.2,1053.7 1473.4,1055.5 1475.7,1057.4 1477.9,1059.3 1480.2,1061.1 1482.4,1062.9 1484.7,1064.8 1487.0,1066.6 1489.2,1068.4 1491.5,1070.1 1493.7,1071.9 1496.0,1073.6 1498.2,1075.4 1500.5,1077.1 1502.7,1078.8 1505.0,1080.5 1507.3,1082.2 1509.5,1083.8 1511.8,1085.5 1514.0,1087.1 1516.3,1088.7 1518.5,1090.4 1520.8,1092.0 1523.0,1093.5 1525.3,1095.1 1527.6,1096.7 1529.8,1098.2 1532.1,1099.7 1534.3,1101.3 1536.6,1102.8 1538.8,1104.3 1541.1,1105.7 1543.3,1107.2 1545.6,1108.7 1547.9,1110.1 1550.1,1111.5 1552.4,1113.0 1554.6,1114.4 1556.9,1115.8 1559.1,1117.1 1561.4,1118.5 1563.6,1119.9 1565.9,1121.2 1568.2,1122.5 1570.4,1123.8 1572.7,1125.2 1574.9,1126.4 1577.2,1127.7 1579.4,1129.0 1581.7,1130.3 1583.9,1131.5 1586.2,1132.7 1588.4,1134.0 1590.7,1135.2 1593.0,1136.4 1595.2,1137.6 1597.5,1138.8 1599.7,1139.9 1602.0,1141.1 1604.2,1142.2 1606.5,1143.4 1608.7,1144.5 1611.0,1145.6 1613.3,1146.7 1615.5,1147.8 1617.8,1148.9 1620.0,1149.9 1622.3,1151.0 1624.5,1152.0 1626.8,1153.1 1629.0,1154.1 1631.3,1155.1 1633.6,1156.1 1635.8,1157.1 1638.1,1158.1 1640.3,1159.1 1642.6,1160.0 1644.8,1161.0 1647.1,1161.9 1649.3,1162.9 1651.6,1163.8 1653.9,1164.7 1656.1,1165.6 1658.4,1166.5 1660.6,1167.4 1662.9,1168.3 1665.1,1169.2 1667.4,1170.0 1669.6,1170.9 1671.9,1171.7 1674.1,1172.5 1676.4,1173.3 1678.7,1174.2 1680.9,1175.0 1683.2,1175.8 1685.4,1176.5 1687.7,1177.3 1689.9,1178.1 1692.2,1178.8 1694.4,1179.6 1696.7,1180.3 1699.0,1181.1 1701.2,1181.8 1703.5,1182.5 1705.7,1183.2 1708.0,1183.9 1710.2,1184.6 1712.5,1185.3 1714.7,1186.0 1717.0,1186.6"/>
<polyline stroke="#fbc013" points="747.2,1740.7 749.5,1719.5 751.7,1698.4 754.0,1677.4 756.2,1656.4 758.5,1635.6 760.8,1614.8 763.0,1594.1 765.3,1573.6 767.5,1553.2 769.8,1533.0 772.0,1512.9 774.3,1493.0 776.5,1473.2 778.8,1453.7 781.1,1434.3 783.3,1415.2 785.6,1396.2 787.8,1377.4 790.1,1358.9 792.3,1340.6 794.6,1322.5 796.8,1304.6 799.1,1286.9 801.4,1269.4 803.6,1252.2 805.9,1235.2 808.1,1218.5 810.4,1201.9 812.6,1185.6 814.9,1169.6 817.1,1153.7 819.4,1138.2 821.6,1122.8 823.9,1107.7 826.2,1092.8 828.4,1078.1 830.7,1063.7 832.9,1049.6 835.2,1035.6 837.4,1021.9 839.7,1008.4 841.9,995.2 844.2,982.2 846.5,969.4 848.7,956.9 851.0,944.5 853.2,932.5 855.5,920.6 857.7,909.0 860.0,897.6 862.2,886.4 864.5,875.4 866.8,864.7 869.0,854.2 871.3,843.8 873.5,833.8 875.8,823.9 878.0,814.2 880.3,804.8 882.5,795.5 884.8,786.5 887.1,777.7 889.3,769.1 891.6,760.7 893.8,752.4 896.1,744.4 898.3,736.6 900.6,729.0 902.8,721.5 905.1,714.3 907.3,707.2 909.6,700.4 911.9,693.7 914.1,687.2 916.4,680.9 918.6,674.8 920.9,668.8 923.1,663.0 925.4,657.4 927.6,652.0 929.9,646.7 932.2,641.6 934.4,636.7 936.7,631.9 938.9,627.3 941.2,622.9 943.4,618.6 945.7,614.4 947.9,610.4 950.2,606.6 952.5,602.9 954.7,599.4 957.0,596.0 959.2,592.7 961.5,589.6 963.7,586.7 966.0,583.8 968.2,581.1 970.5,578.6 972.8,576.1 975.0,573.8 977.3,571.6 979.5,569.6 981.8,567.6 984.0,565.8 986.3,564.1 988.5,562.6 990.8,561.1 993.1,559.8 995.3,558.5 997.6,557.4 999.8,556.4 1002.1,555.5 1004.3,554.7 1006.6,554.0 1008.8,553.4 1011.1,552.9 1013.3,552.5 1015.6,552.2 1017.9,551.9 1020.1,551.8 1022.4,551.8 1024.6,551.8 1026.9,552.0 1029.1,552.2 1031.4,552.5 1033.6,552.9 1035.9,553.4 1038.2,553.9 1040.4,554.6 1042.7,555.3 1044.9,556.1 1047.2,556.9 1049.4,557.8 1051.7,558.8 1053.9,559.9 1056.2,561.0 1058.5,562.2 1060.7,563.5 1063.0,564.8 1065.2,566.2 1067.5,567.6 1069.7,569.1 1072.0,570.7 1074.2,572.3 1076.5,574.0 1078.8,575.7 1081.0,577.5 1083.3,579.3 1085.5,581.2 1087.8,583.1 1090.0,585.1 1092.3,587.1 1094.5,589.2 1096.8,591.3 1099.0,593.4 1101.3,595.6 1103.6,597.9 1105.8,600.1 1108.1,602.4 1110.3,604.8 1112.6,607.2 1114.8,609.6 1117.1,612.0 1119.3,614.5 1121.6,617.0 1123.9,619.6 1126.1,622.1 1128.4,624.7 1130.6,627.4 1132.9,630.0 1135.1,632.7 1137.4,635.4 1139.6,638.2 1141.9,640.9 1144.2,643.7 1146.4,646.5 1148.7,649.4 1150.9,652.2 1153.2,655.1 1155.4,657.9 1157.7,660.9 1159.9,663.8 1162.2,666.7 1164.5,669.7 1166.7,672.6 1169.0,675.6 1171.2,678.6 1173.5,681.6 1175.7,684.6 1178.0,687.7 1180.2,690.7 1182.5,693.8 1184.8,696.8 1187.0,699.9 1189.3,703.0 1191.5,706.1 1193.8,709.2 1196.0,712.3 1198.3,715.4 1200.5,718.5 1202.8,721.7 1205.0,724.8 1207.3,727.9 1209.6,731.0 1211.8,734.2 1214.1,737.3 1216.3,740.5 1218.6,743.6 1220.8,746.8 1223.1,749.9 1225.3,753.1 1227.6,756.2 1229.9,759.4 1232.1,762.5 1234.4,765.7 1236.6,768.8 1238.9,772.0 1241.1,775.1 1243.4,778.2 1245.6,781.4 1247.9,784.5 1250.2,787.6 1252.4,790.8 1254.7,793.9 1256.9,797.0 1259.2,800.1 1261.4,803.2 1263.7,806.3 1265.9,809.4 1268.2,812.5 1270.5,815.6 1272.7,818.6 1275.0,821.7 1277.2,824.8 1279.5,827.8 1281.7,830.9 1284.0,833.9 1286.2,836.9 1288.5,839.9 1290.7,842.9 1293.0,845.9 1295.3,848.9 1297.5,851.9 1299.8,854.9 1302.0,857.9 1304.3,860.8 1306.5,863.7 1308.8,866.7 1311.0,869.6 1313.3,872.5 1315.6,875.4 1317.8,878.3 1320.1,881.2 1322.3,884.0 1324.6,886.9 1326.8,889.7 1329.1,892.6 1331.3,895.4 1333.6,898.2 1335.9,901.0 1338.1,903.8 1340.4,906.6 1342.6,909.3 1344.9,912.1 1347.1,914.8 1349.4,917.5 1351.6,920.2 1353.9,922.9 1356.2,925.6 1358.4,928.3 1360.7,930.9 1362.9,933.6 1365.2,936.2 1367.4,938.8 1369.7,941.4 1371.9,944.0 1374.2,946.6 1376.5,949.1 1378.7,951.7 1381.0,954.2 1383.2,956.7 1385.5,959.2 1387.7,961.7 1390.0,964.2 1392.2,966.6 1394.5,969.1 1396.7,971.5 1399.0,973.9 1401.3,976.4 1403.5,978.7 1405.8,981.1 1408.0,983.5 1410.3,985.8 1412.5,988.2 1414.8,990.5 1417.0,992.8 1419.3,995.1 1421.6,997.4 1423.8,999.6 1426.1,1001.9 1428.3,1004.1 1430.6,1006.3 1432.8,1008.5 1435.1,1010.7 1437.3,1012.9 1439.6,1015.0 1441.9,1017.2 1444.1,1019.3 1446.4,1021.4 1448.6,1023.6 1450.9,1025.6 1453.1,1027.7 1455.4,1029.8 1457.6,1031.8 1459.9,1033.9 1462.2,1035.9 1464.4,1037.9 1466.7,1039.9 1468.9,1041.8 1471.2,1043.8 1473.4,1045.7 1475.7,1047.7 1477.9,1049.6 1480.2,1051.5 1482.4,1053.4 1484.7,1055.3 1487.0,1057.1 1489.2,1059.0 1491.5,1060.8 1493.7,1062.6 1496.0,1064.4 1498.2,1066.2 1500.5,1068.0 1502.7,1069.8 1505.0,1071.5 1507.3,1073.3 1509.5,1075.0 1511.8,1076.7 1514.0,1078.4 1516.3,1080.1 1518.5,1081.8 1520.8,1083.4 1523.0,1085.1 1525.3,1086.7 1527.6,1088.3 1529.8,1089.9 1532.1,1091.5 1534.3,1093.1 1536.6,1094.7 1538.8,1096.2 1541.1,1097.8 1543.3,1099.3 1545.6,1100.8 1547.9,1102.3 1550.1,1103.8 1552.4,1105.3 1554.6,1106.7 1556.9,1108.2 1559.1,1109.6 1561.4,1111.1 1563.6,1112.5 1565.9,1113.9 1568.2,1115.3 1570.4,1116.6 1572.7,1118.0 1574.9,1119.4 1577.2,1120.7 1579.4,1122.0 1581.7,1123.4 1583.9,1124.7 1586.2,1126.0 1588.4,1127.2 1590.7,1128.5 1593.0,1129.8 1595.2,1131.0 1597.5,1132.3 1599.7,1133.5 1602.0,1134.7 1604.2,1135.9 1606.5,1137.1 1608.7,1138.3 1611.0,1139.4 1613.3,1140.6 1615.5,1141.7 1617.8,1142.9 1620.0,1144.0 1622.3,1145.1 1624.5,1146.2 1626.8,1147.3 1629.0,1148.4 1631.3,1149.5 1633.6,1150.5 1635.8,1151.6 1638.1,1152.6 1640.3,1153.7 1642.6,1154.7 1644.8,1155.7 1647.1,1156.7 1649.3,1157.7 1651.6,1158.7 1653.9,1159.6 1656.1,1160.6 1658.4,1161.5 1660.6,1162.5 1662.9,1163.4 1665.1,1164.3 1667.4,1165.2 1669.6,1166.1 1671.9,1167.0 1674.1,1167.9 1676.4,1168.8 1678.7,1169.7 1680.9,1170.5 1683.2,1171.4 1685.4,1172.2 1687.7,1173.0 1689.9,1173.8 1692.2,1174.7 1694.4,1175.5 1696.7,1176.2 1699.0,1177.0 1701.2,1177.8 1703.5,1178.6 1705.7,1179.3 1708.0,1180.1 1710.2,1180.8 1712.5,1181.6 1714.7,1182.3 1717.0,1183.0"/>
<polyline stroke="#4d5a72" points="747.2,1759.1 749.5,1738.9 751.7,1718.7 754.0,1698.6 756.2,1678.5 758.5,1658.5 760.8,1638.6 763.0,1618.8 765.3,1599.1 767.5,1579.5 769.8,1560.1 772.0,1540.7 774.3,1521.5 776.5,1502.5 778.8,1483.6 781.1,1464.9 783.3,1446.3 785.6,1427.9 787.8,1409.7 790.1,1391.7 792.3,1373.8 794.6,1356.2 796.8,1338.7 799.1,1321.4 801.4,1304.3 803.6,1287.4 805.9,1270.7 808.1,1254.2 810.4,1238.0 812.6,1221.9 814.9,1206.0 817.1,1190.3 819.4,1174.9 821.6,1159.6 823.9,1144.6 826.2,1129.7 828.4,1115.1 830.7,1100.7 832.9,1086.5 835.2,1072.5 837.4,1058.7 839.7,1045.2 841.9,1031.8 844.2,1018.7 846.5,1005.7 848.7,993.0 851.0,980.5 853.2,968.2 855.5,956.1 857.7,944.2 860.0,932.5 862.2,921.0 864.5,909.7 866.8,898.7 869.0,887.8 871.3,877.1 873.5,866.7 875.8,856.4 878.0,846.3 880.3,836.5 882.5,826.8 884.8,817.3 887.1,808.1 889.3,799.0 891.6,790.1 893.8,781.4 896.1,772.8 898.3,764.5 900.6,756.4 902.8,748.4 905.1,740.6 907.3,733.0 909.6,725.6 911.9,718.4 914.1,711.3 916.4,704.4 918.6,697.7 920.9,691.2 923.1,684.8 925.4,678.6 927.6,672.5 929.9,666.7 932.2,661.0 934.4,655.4 936.7,650.0 938.9,644.8 941.2,639.7 943.4,634.8 945.7,630.1 947.9,625.4 950.2,621.0 952.5,616.7 954.7,612.5 957.0,608.5 959.2,604.6 961.5,600.8 963.7,597.2 966.0,593.8 968.2,590.4 970.5,587.2 972.8,584.2 975.0,581.3 977.3,578.4 979.5,575.8 981.8,573.2 984.0,570.8 986.3,568.5 988.5,566.3 990.8,564.2 993.1,562.3 995.3,560.4 997.6,558.7 999.8,557.1 1002.1,555.6 1004.3,554.2 1006.6,552.9 1008.8,551.7 1011.1,550.6 1013.3,549.7 1015.6,548.8 1017.9,548.0 1020.1,547.3 1022.4,546.7 1024.6,546.2 1026.9,545.8 1029.1,545.5 1031.4,545.3 1033.6,545.1 1035.9,545.1 1038.2,545.1 1040.4,545.2 1042.7,545.4 1044.9,545.7 1047.2,546.1 1049.4,546.5 1051.7,547.0 1053.9,547.6 1056.2,548.2 1058.5,549.0 1060.7,549.8 1063.0,550.6 1065.2,551.6 1067.5,552.6 1069.7,553.6 1072.0,554.8 1074.2,555.9 1076.5,557.2 1078.8,558.5 1081.0,559.9 1083.3,561.3 1085.5,562.8 1087.8,564.3 1090.0,565.9 1092.3,567.6 1094.5,569.2 1096.8,571.0 1099.0,572.8 1101.3,574.6 1103.6,576.5 1105.8,578.4 1108.1,580.4 1110.3,582.4 1112.6,584.5 1114.8,586.6 1117.1,588.7 1119.3,590.9 1121.6,593.1 1123.9,595.4 1126.1,597.7 1128.4,600.0 1130.6,602.4 1132.9,604.8 1135.1,607.2 1137.4,609.7 1139.6,612.2 1141.9,614.7 1144.2,617.2 1146.4,619.8 1148.7,622.4 1150.9,625.0 1153.2,627.7 1155.4,630.4 1157.7,633.1 1159.9,635.8 1162.2,638.6 1164.5,641.3 1166.7,644.1 1169.0,646.9 1171.2,649.8 1173.5,652.6 1175.7,655.5 1178.0,658.4 1180.2,661.3 1182.5,664.2 1184.8,667.1 1187.0,670.1 1189.3,673.0 1191.5,676.0 1193.8,679.0 1196.0,682.0 1198.3,685.0 1200.5,688.0 1202.8,691.1 1205.0,694.1 1207.3,697.1 1209.6,700.2 1211.8,703.3 1214.1,706.3 1216.3,709.4 1218.6,712.5 1220.8,715.6 1223.1,718.7 1225.3,721.8 1227.6,724.9 1229.9,728.0 1232.1,731.1 1234.4,734.2 1236.6,737.4 1238.9,740.5 1241.1,743.6 1243.4,746.7 1245.6,749.9 1247.9,753.0 1250.2,756.1 1252.4,759.2 1254.7,762.4 1256.9,765.5 1259.2,768.6 1261.4,771.7 1263.7,774.8 1265.9,778.0 1268.2,781.1 1270.5,784.2 1272.7,787.3 1275.0,790.4 1277.2,793.5 1279.5,796.6 1281.7,799.7 1284.0,802.7 1286.2,805.8 1288.5,808.9 1290.7,812.0 1293.0,815.0 1295.3,818.1 1297.5,821.1 1299.8,824.2 1302.0,827.2 1304.3,830.2 1306.5,833.2 1308.8,836.2 1311.0,839.2 1313.3,842.2 1315.6,845.2 1317.8,848.2 1320.1,851.2 1322.3,854.1 1324.6,857.1 1326.8,860.0 1329.1,862.9 1331.3,865.9 1333.6,868.8 1335.9,871.7 1338.1,874.6 1340.4,877.4 1342.6,880.3 1344.9,883.2 1347.1,886.0 1349.4,888.8 1351.6,891.7 1353.9,894.5 1356.2,897.3 1358.4,900.1 1360.7,902.9 1362.9,905.6 1365.2,908.4 1367.4,911.1 1369.7,913.8 1371.9,916.6 1374.2,919.3 1376.5,922.0 1378.7,924.6 1381.0,927.3 1383.2,930.0 1385.5,932.6 1387.7,935.2 1390.0,937.8 1392.2,940.4 1394.5,943.0 1396.7,945.6 1399.0,948.2 1401.3,950.7 1403.5,953.3 1405.8,955.8 1408.0,958.3 1410.3,960.8 1412.5,963.3 1414.8,965.7 1417.0,968.2 1419.3,970.6 1421.6,973.1 1423.8,975.5 1426.1,977.9 1428.3,980.3 1430.6,982.6 1432.8,985.0 1435.1,987.3 1437.3,989.7 1439.6,992.0 1441.9,994.3 1444.1,996.6 1446.4,998.9 1448.6,1001.1 1450.9,1003.4 1453.1,1005.6 1455.4,1007.8 1457.6,1010.0 1459.9,1012.2 1462.2,1014.4 1464.4,1016.6 1466.7,1018.7 1468.9,1020.8 1471.2,1023.0 1473.4,1025.1 1475.7,1027.2 1477.9,1029.2 1480.2,1031.3 1482.4,1033.4 1484.7,1035.4 1487.0,1037.4 1489.2,1039.4 1491.5,1041.4 1493.7,1043.4 1496.0,1045.4 1498.2,1047.3 1500.5,1049.3 1502.7,1051.2 1505.0,1053.1 1507.3,1055.0 1509.5,1056.9 1511.8,1058.8 1514.0,1060.6 1516.3,1062.5 1518.5,1064.3 1520.8,1066.1 1523.0,1067.9 1525.3,1069.7 1527.6,1071.5 1529.8,1073.2 1532.1,1075.0 1534.3,1076.7 1536.6,1078.4 1538.8,1080.1 1541.1,1081.8 1543.3,1083.5 1545.6,1085.2 1547.9,1086.9 1550.1,1088.5 1552.4,1090.1 1554.6,1091.7 1556.9,1093.3 1559.1,1094.9 1561.4,1096.5 1563.6,1098.1 1565.9,1099.6 1568.2,1101.2 1570.4,1102.7 1572.7,1104.2 1574.9,1105.7 1577.2,1107.2 1579.4,1108.7 1581.7,1110.2 1583.9,1111.6 1586.2,1113.0 1588.4,1114.5 1590.7,1115.9 1593.0,1117.3 1595.2,1118.7 1597.5,1120.1 1599.7,1121.4 1602.0,1122.8 1604.2,1124.1 1606.5,1125.5 1608.7,1126.8 1611.0,1128.1 1613.3,1129.4 1615.5,1130.7 1617.8,1131.9 1620.0,1133.2 1622.3,1134.5 1624.5,1135.7 1626.8,1136.9 1629.0,1138.1 1631.3,1139.3 1633.6,1140.5 1635.8,1141.7 1638.1,1142.9 1640.3,1144.1 1642.6,1145.2 1644.8,1146.3 1647.1,1147.5 1649.3,1148.6 1651.6,1149.7 1653.9,1150.8 1656.1,1151.9 1658.4,1153.0 1660.6,1154.0 1662.9,1155.1 1665.1,1156.1 1667.4,1157.2 1669.6,1158.2 1671.9,1159.2 1674.1,1160.2 1676.4,1161.2 1678.7,1162.2 1680.9,1163.1 1683.2,1164.1 1685.4,1165.1 1687.7,1166.0 1689.9,1166.9 1692.2,1167.9 1694.4,1168.8 1696.7,1169.7 1699.0,1170.6 1701.2,1171.5 1703.5,1172.4 1705.7,1173.2 1708.0,1174.1 1710.2,1174.9 1712.5,1175.8 1714.7,1176.6 1717.0,1177.4"/>
<polyline stroke="#00589b" points="747.2,1751.5 749.5,1730.6 751.7,1709.8 754.0,1689.0 756.2,1668.3 758.5,1647.7 760.8,1627.1 763.0,1606.7 765.3,1586.4 767.5,1566.2 769.8,1546.2 772.0,1526.3 774.3,1506.6 776.5,1487.1 778.8,1467.7 781.1,1448.6 783.3,1429.6 785.6,1410.8 787.8,1392.2 790.1,1373.8 792.3,1355.6 794.6,1337.6 796.8,1319.8 799.1,1302.3 801.4,1285.0 803.6,1267.8 805.9,1250.9 808.1,1234.3 810.4,1217.8 812.6,1201.6 814.9,1185.6 817.1,1169.8 819.4,1154.2 821.6,1138.9 823.9,1123.8 826.2,1108.9 828.4,1094.3 830.7,1079.9 832.9,1065.7 835.2,1051.7 837.4,1038.0 839.7,1024.5 841.9,1011.2 844.2,998.1 846.5,985.3 848.7,972.6 851.0,960.2 853.2,948.1 855.5,936.1 857.7,924.4 860.0,912.8 862.2,901.5 864.5,890.4 866.8,879.5 869.0,868.9 871.3,858.4 873.5,848.2 875.8,838.1 878.0,828.3 880.3,818.7 882.5,809.2 884.8,800.0 887.1,791.0 889.3,782.2 891.6,773.5 893.8,765.1 896.1,756.9 898.3,748.8 900.6,741.0 902.8,733.3 905.1,725.8 907.3,718.5 909.6,711.4 911.9,704.5 914.1,697.8 916.4,691.2 918.6,684.8 920.9,678.6 923.1,672.5 925.4,666.7 927.6,661.0 929.9,655.4 932.2,650.1 934.4,644.8 936.7,639.8 938.9,634.9 941.2,630.2 943.4,625.6 945.7,621.2 947.9,616.9 950.2,612.8 952.5,608.8 954.7,605.0 957.0,601.3 959.2,597.8 961.5,594.4 963.7,591.1 966.0,588.0 968.2,585.0 970.5,582.2 972.8,579.5 975.0,576.9 977.3,574.4 979.5,572.1 981.8,569.9 984.0,567.8 986.3,565.8 988.5,564.0 990.8,562.2 993.1,560.6 995.3,559.1 997.6,557.7 999.8,556.4 1002.1,555.3 1004.3,554.2 1006.6,553.2 1008.8,552.4 1011.1,551.6 1013.3,550.9 1015.6,550.4 1017.9,549.9 1020.1,549.5 1022.4,549.2 1024.6,549.0 1026.9,548.9 1029.1,549.0 1031.4,549.0 1033.6,549.2 1035.9,549.4 1038.2,549.7 1040.4,550.1 1042.7,550.6 1044.9,551.2 1047.2,551.8 1049.4,552.5 1051.7,553.3 1053.9,554.1 1056.2,555.1 1058.5,556.1 1060.7,557.1 1063.0,558.2 1065.2,559.4 1067.5,560.7 1069.7,562.0 1072.0,563.4 1074.2,564.8 1076.5,566.3 1078.8,567.8 1081.0,569.4 1083.3,571.1 1085.5,572.8 1087.8,574.5 1090.0,576.3 1092.3,578.2 1094.5,580.1 1096.8,582.0 1099.0,584.0 1101.3,586.1 1103.6,588.2 1105.8,590.3 1108.1,592.5 1110.3,594.7 1112.6,596.9 1114.8,599.2 1117.1,601.5 1119.3,603.9 1121.6,606.3 1123.9,608.7 1126.1,611.2 1128.4,613.6 1130.6,616.2 1132.9,618.7 1135.1,621.3 1137.4,623.9 1139.6,626.5 1141.9,629.2 1144.2,631.9 1146.4,634.6 1148.7,637.3 1150.9,640.1 1153.2,642.9 1155.4,645.7 1157.7,648.5 1159.9,651.4 1162.2,654.2 1164.5,657.1 1166.7,660.0 1169.0,662.9 1171.2,665.9 1173.5,668.8 1175.7,671.8 1178.0,674.7 1180.2,677.7 1182.5,680.7 1184.8,683.8 1187.0,686.8 1189.3,689.8 1191.5,692.9 1193.8,695.9 1196.0,699.0 1198.3,702.1 1200.5,705.2 1202.8,708.2 1205.0,711.3 1207.3,714.5 1209.6,717.6 1211.8,720.7 1214.1,723.8 1216.3,726.9 1218.6,730.1 1220.8,733.2 1223.1,736.3 1225.3,739.5 1227.6,742.6 1229.9,745.7 1232.1,748.9 1234.4,752.0 1236.6,755.2 1238.9,758.3 1241.1,761.5 1243.4,764.6 1245.6,767.7 1247.9,770.9 1250.2,774.0 1252.4,777.1 1254.7,780.3 1256.9,783.4 1259.2,786.5 1261.4,789.6 1263.7,792.8 1265.9,795.9 1268.2,799.0 1270.5,802.1 1272.7,805.2 1275.0,808.3 1277.2,811.4 1279.5,814.4 1281.7,817.5 1284.0,820.6 1286.2,823.6 1288.5,826.7 1290.7,829.7 1293.0,832.7 1295.3,835.8 1297.5,838.8 1299.8,841.8 1302.0,844.8 1304.3,847.8 1306.5,850.8 1308.8,853.7 1311.0,856.7 1313.3,859.7 1315.6,862.6 1317.8,865.5 1320.1,868.5 1322.3,871.4 1324.6,874.3 1326.8,877.2 1329.1,880.1 1331.3,882.9 1333.6,885.8 1335.9,888.6 1338.1,891.5 1340.4,894.3 1342.6,897.1 1344.9,899.9 1347.1,902.7 1349.4,905.5 1351.6,908.2 1353.9,911.0 1356.2,913.7 1358.4,916.4 1360.7,919.2 1362.9,921.9 1365.2,924.5 1367.4,927.2 1369.7,929.9 1371.9,932.5 1374.2,935.2 1376.5,937.8 1378.7,940.4 1381.0,943.0 1383.2,945.6 1385.5,948.1 1387.7,950.7 1390.0,953.2 1392.2,955.8 1394.5,958.3 1396.7,960.8 1399.0,963.3 1401.3,965.7 1403.5,968.2 1405.8,970.6 1408.0,973.1 1410.3,975.5 1412.5,977.9 1414.8,980.3 1417.0,982.6 1419.3,985.0 1421.6,987.3 1423.8,989.7 1426.1,992.0 1428.3,994.3 1430.6,996.6 1432.8,998.8 1435.1,1001.1 1437.3,1003.3 1439.6,1005.6 1441.9,1007.8 1444.1,1010.0 1446.4,1012.2 1448.6,1014.4 1450.9,1016.5 1453.1,1018.7 1455.4,1020.8 1457.6,1022.9 1459.9,1025.0 1462.2,1027.1 1464.4,1029.2 1466.7,1031.2 1468.9,1033.3 1471.2,1035.3 1473.4,1037.3 1475.7,1039.3 1477.9,1041.3 1480.2,1043.3 1482.4,1045.2 1484.7,1047.2 1487.0,1049.1 1489.2,1051.0 1491.5,1052.9 1493.7,1054.8 1496.0,1056.7 1498.2,1058.6 1500.5,1060.4 1502.7,1062.3 1505.0,1064.1 1507.3,1065.9 1509.5,1067.7 1511.8,1069.5 1514.0,1071.2 1516.3,1073.0 1518.5,1074.7 1520.8,1076.4 1523.0,1078.2 1525.3,1079.9 1527.6,1081.5 1529.8,1083.2 1532.1,1084.9 1534.3,1086.5 1536.6,1088.2 1538.8,1089.8 1541.1,1091.4 1543.3,1093.0 1545.6,1094.6 1547.9,1096.1 1550.1,1097.7 1552.4,1099.2 1554.6,1100.7 1556.9,1102.3 1559.1,1103.8 1561.4,1105.3 1563.6,1106.7 1565.9,1108.2 1568.2,1109.7 1570.4,1111.1 1572.7,1112.5 1574.9,1113.9 1577.2,1115.3 1579.4,1116.7 1581.7,1118.1 1583.9,1119.5 1586.2,1120.8 1588.4,1122.2 1590.7,1123.5 1593.0,1124.8 1595.2,1126.1 1597.5,1127.4 1599.7,1128.7 1602.0,1130.0 1604.2,1131.3 1606.5,1132.5 1608.7,1133.7 1611.0,1135.0 1613.3,1136.2 1615.5,1137.4 1617.8,1138.6 1620.0,1139.8 1622.3,1140.9 1624.5,1142.1 1626.8,1143.2 1629.0,1144.4 1631.3,1145.5 1633.6,1146.6 1635.8,1147.7 1638.1,1148.8 1640.3,1149.9 1642.6,1151.0 1644.8,1152.0 1647.1,1153.1 1649.3,1154.1 1651.6,1155.2 1653.9,1156.2 1656.1,1157.2 1658.4,1158.2 1660.6,1159.2 1662.9,1160.2 1665.1,1161.2 1667.4,1162.1 1669.6,1163.1 1671.9,1164.0 1674.1,1164.9 1676.4,1165.9 1678.7,1166.8 1680.9,1167.7 1683.2,1168.6 1685.4,1169.5 1687.7,1170.3 1689.9,1171.2 1692.2,1172.1 1694.4,1172.9 1696.7,1173.7 1699.0,1174.6 1701.2,1175.4 1703.5,1176.2 1705.7,1177.0 1708.0,1177.8 1710.2,1178.6 1712.5,1179.4 1714.7,1180.1 1717.0,1180.9"/>
</g>
<g font-family="'Liberation Serif', 'Times New Roman', serif" font-size="95" fill="#262626" letter-spacing="-1.2">
<text x="815.5" y="1410.5" text-anchor="middle">0.2</text>
<text x="1041" y="1410.5" text-anchor="middle">0.4</text>
<text x="1266.5" y="1410.5" text-anchor="middle">0.6</text>
<text x="1492.1" y="1410.5" text-anchor="middle">0.8</text>
<text x="1717.6" y="1410.5" text-anchor="middle">1</text>
<text x="731" y="581.8" text-anchor="end">2</text>
<text x="731" y="731.8" text-anchor="end">1.5</text>
<text x="731" y="881.8" text-anchor="end">1</text>
<text x="731" y="1031.7" text-anchor="end">0.5</text>
<text x="731" y="1181.7" text-anchor="end">0</text>
<text x="731" y="1331.7" text-anchor="end">-0.5</text>
</g>
<path d="M1205.1 668.5L1837.3 667.7" stroke="#4d5a72" stroke-width="5" stroke-dasharray="12.7 10.6" fill="none"/>
<path d="M1867.3 667.7L1825.8 651.8L1836.8 667.7L1825.8 683.6Z" fill="#4d5a72"/>
<g fill="#000" font-family="'Liberation Serif', 'Times New Roman', serif"><text transform="translate(1883.3,694) skewX(-12) scale(1.08,1)" font-family="'DejaVu Sans', sans-serif" font-weight="200" font-size="78" stroke="#000" stroke-width="1.5">ε</text><text x="1934.4" y="707.5" font-size="64" font-style="italic" textLength="87" lengthAdjust="spacingAndGlyphs">opt</text><text transform="translate(2024.5,700.3) scale(1.385,0.95)" font-size="97">=</text><text x="2098.5" y="694" font-size="97">0</text></g>
<path d="M1270 773.4L1835.9 772" stroke="#00589b" stroke-width="5" stroke-dasharray="12.7 10.6" fill="none"/>
<path d="M1865.9 772L1824.4 756.1L1835.4 772L1824.4 787.9Z" fill="#00589b"/>
<g fill="#000" font-family="'Liberation Serif', 'Times New Roman', serif"><text transform="translate(1879.2,803.2) skewX(-12) scale(1.08,1)" font-family="'DejaVu Sans', sans-serif" font-weight="200" font-size="78" stroke="#000" stroke-width="1.5">ε</text><text x="1930.3" y="816.7" font-size="64" font-style="italic" textLength="87" lengthAdjust="spacingAndGlyphs">opt</text><text transform="translate(2020.4,809.5) scale(1.385,0.95)" font-size="97">=</text><text x="2094.4 2141.4 2165.4 2212.4 2259.4" y="803.2" font-size="97">0.049</text></g>
<path d="M1340.9 880L1830.4 879.2" stroke="#fbc013" stroke-width="5" stroke-dasharray="12.7 10.6" fill="none"/>
<path d="M1860.4 879.2L1818.9 863.3L1829.9 879.2L1818.9 895.1Z" fill="#fbc013"/>
<g fill="#000" font-family="'Liberation Serif', 'Times New Roman', serif"><text transform="translate(1873.7,910) skewX(-12) scale(1.08,1)" font-family="'DejaVu Sans', sans-serif" font-weight="200" font-size="78" stroke="#000" stroke-width="1.5">ε</text><text x="1924.8" y="923.5" font-size="64" font-style="italic" textLength="87" lengthAdjust="spacingAndGlyphs">opt</text><text transform="translate(2014.9,916.3) scale(1.385,0.95)" font-size="97">=</text><text x="2088.9 2135.9 2159.9 2206.9 2253.9" y="910" font-size="97">0.082</text></g>
<path d="M1418 991.5L1828.1 993" stroke="#f3754a" stroke-width="5" stroke-dasharray="12.7 10.6" fill="none"/>
<path d="M1858.1 993L1816.6 977.1L1827.6 993L1816.6 1008.9Z" fill="#f3754a"/>
<g fill="#000" font-family="'Liberation Serif', 'Times New Roman', serif"><text transform="translate(1871.5,1019) skewX(-12) scale(1.08,1)" font-family="'DejaVu Sans', sans-serif" font-weight="200" font-size="78" stroke="#000" stroke-width="1.5">ε</text><text x="1922.6" y="1032.5" font-size="64" font-style="italic" textLength="87" lengthAdjust="spacingAndGlyphs">opt</text><text transform="translate(2012.7,1025.3) scale(1.385,0.95)" font-size="97">=</text><text x="2086.7 2133.7 2157.7 2204.7 2251.7" y="1019" font-size="97">0.126</text></g>
<path d="M1496.5 1102.5L1834.5 1103.6" stroke="#5f7748" stroke-width="5" stroke-dasharray="12.7 10.6" fill="none"/>
<path d="M1864.5 1103.6L1823 1087.7L1834 1103.6L1823 1119.5Z" fill="#5f7748"/>
<g fill="#000" font-family="'Liberation Serif', 'Times New Roman', serif"><text transform="translate(1877,1131.5) skewX(-12) scale(1.08,1)" font-family="'DejaVu Sans', sans-serif" font-weight="200" font-size="78" stroke="#000" stroke-width="1.5">ε</text><text x="1928.1" y="1145" font-size="64" font-style="italic" textLength="87" lengthAdjust="spacingAndGlyphs">opt</text><text transform="translate(2018.2,1137.8) scale(1.385,0.95)" font-size="97">=</text><text x="2092.2 2139.2 2163.2 2210.2 2257.2" y="1131.5" font-size="97">0.283</text></g>
<path d="M1646 1190L1833.1 1191.3" stroke="#5ec6cb" stroke-width="5" stroke-dasharray="12.7 10.6" fill="none"/>
<path d="M1863.1 1191.3L1821.6 1175.4L1832.6 1191.3L1821.6 1207.2Z" fill="#5ec6cb"/>
<g fill="#000" font-family="'Liberation Serif', 'Times New Roman', serif"><text transform="translate(1875.1,1238.5) skewX(-12) scale(1.08,1)" font-family="'DejaVu Sans', sans-serif" font-weight="200" font-size="78" stroke="#000" stroke-width="1.5">ε</text><text x="1926.2" y="1252" font-size="64" font-style="italic" textLength="87" lengthAdjust="spacingAndGlyphs">opt</text><text transform="translate(2016.3,1244.8) scale(1.385,0.95)" font-size="97">=</text><text x="2090.3 2137.3 2161.3 2208.3 2255.3" y="1238.5" font-size="97">0.521</text></g>
</svg>
</body></html>
